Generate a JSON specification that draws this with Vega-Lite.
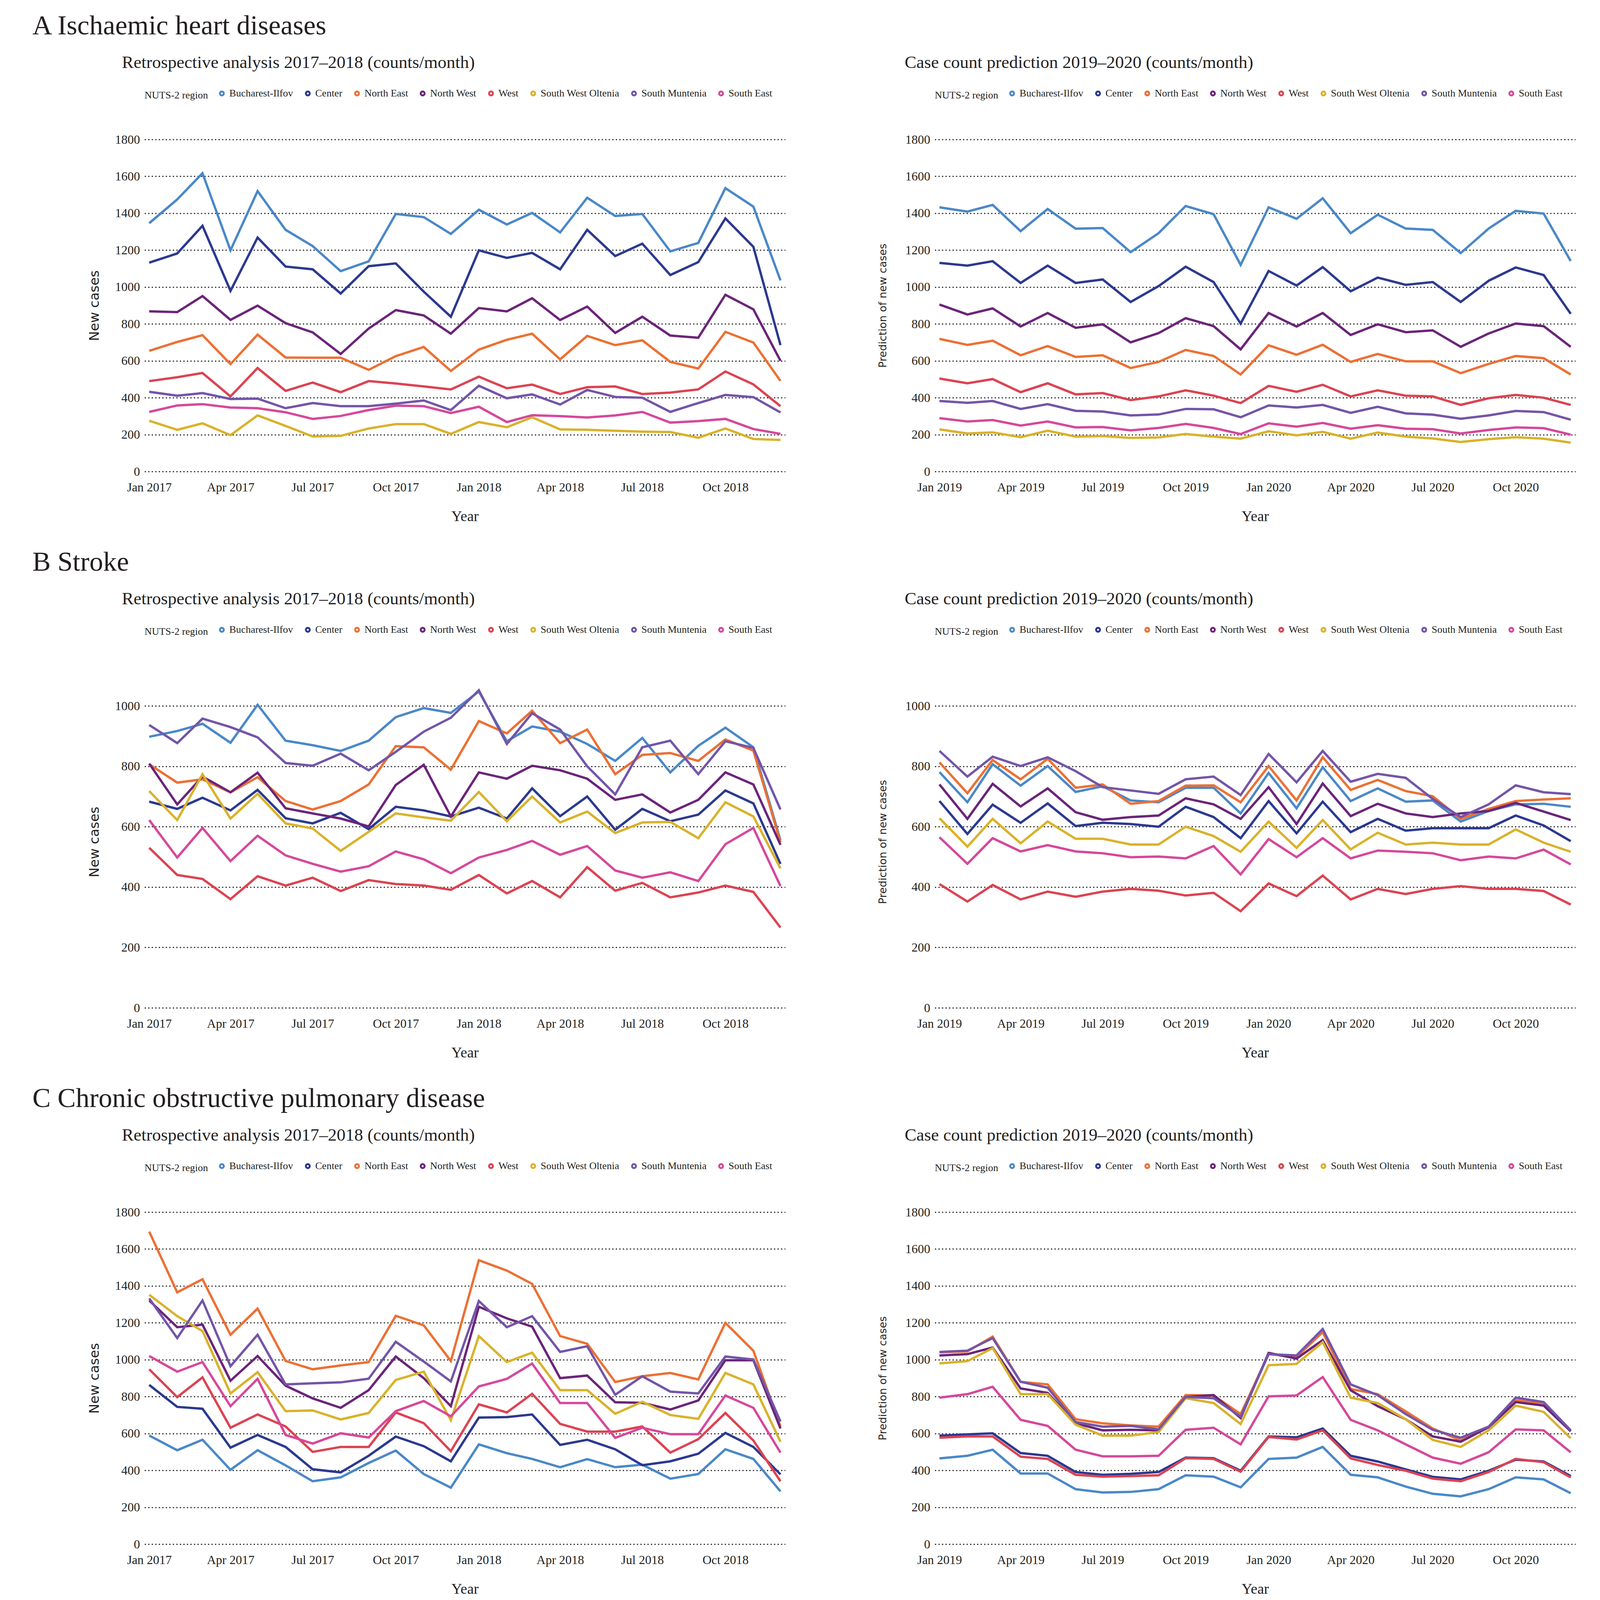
{
"$schema":"https://vega.github.io/schema/vega-lite/v6.json",
"padding":{"left":83,"top":32,"right":5,"bottom":5},
"spacing":64,
"resolve":{"scale":{"color":"independent"}},
"config":{
"font":"Liberation Serif",
"view":{"stroke":null},
"title":{"font":"Liberation Serif","fontWeight":"normal","color":"#231f20","anchor":"start","frame":"group"},
"axis":{"labelFont":"Liberation Serif","labelFontSize":32,"labelColor":"#231f20","titleFont":"Liberation Serif","titleFontSize":38,"titleFontWeight":"normal","titleColor":"#231f20","domain":false,"ticks":false},
"axisY":{"grid":true,"gridColor":"#222222","gridDash":[3,6],"gridWidth":3,"titleFont":"DejaVu Sans","titleFontSize":34,"labelPadding":12,"titlePadding":35,"format":"d"},
"axisX":{"grid":false,"labelPadding":25,"titlePadding":40},
"legend":{"orient":"top","direction":"horizontal","titleOrient":"left","titleFont":"Liberation Serif","titleFontSize":26,"titleFontWeight":"normal","titleColor":"#231f20","labelFont":"Liberation Serif","labelFontSize":26,"labelColor":"#231f20","labelLimit":600,"columnPadding":14,"labelOffset":6,"titlePadding":22,"offset":95}
},
"datasets":{
"regions":[{"r":"BI","n":"Bucharest-Ilfov"},{"r":"CE","n":"Center"},{"r":"NE","n":"North East"},{"r":"NW","n":"North West"},{"r":"WE","n":"West"},{"r":"SW","n":"South West Oltenia"},{"r":"SM","n":"South Muntenia"},{"r":"SE","n":"South East"}],
"A1":[
{"r":"BI","t":"2017-01","v":1346},{"r":"BI","t":"2017-02","v":1475},{"r":"BI","t":"2017-03","v":1617},{"r":"BI","t":"2017-04","v":1199},{"r":"BI","t":"2017-05","v":1520},{"r":"BI","t":"2017-06","v":1310},{"r":"BI","t":"2017-07","v":1222},{"r":"BI","t":"2017-08","v":1086},{"r":"BI","t":"2017-09","v":1139},{"r":"BI","t":"2017-10","v":1396},{"r":"BI","t":"2017-11","v":1379},{"r":"BI","t":"2017-12","v":1288},{"r":"BI","t":"2018-01","v":1419},{"r":"BI","t":"2018-02","v":1339},{"r":"BI","t":"2018-03","v":1402},{"r":"BI","t":"2018-04","v":1296},{"r":"BI","t":"2018-05","v":1484},{"r":"BI","t":"2018-06","v":1385},{"r":"BI","t":"2018-07","v":1396},{"r":"BI","t":"2018-08","v":1193},{"r":"BI","t":"2018-09","v":1239},{"r":"BI","t":"2018-10","v":1536},{"r":"BI","t":"2018-11","v":1436},{"r":"BI","t":"2018-12","v":1036},
{"r":"CE","t":"2017-01","v":1132},{"r":"CE","t":"2017-02","v":1182},{"r":"CE","t":"2017-03","v":1332},{"r":"CE","t":"2017-04","v":979},{"r":"CE","t":"2017-05","v":1268},{"r":"CE","t":"2017-06","v":1111},{"r":"CE","t":"2017-07","v":1096},{"r":"CE","t":"2017-08","v":965},{"r":"CE","t":"2017-09","v":1113},{"r":"CE","t":"2017-10","v":1128},{"r":"CE","t":"2017-11","v":975},{"r":"CE","t":"2017-12","v":839},{"r":"CE","t":"2018-01","v":1199},{"r":"CE","t":"2018-02","v":1158},{"r":"CE","t":"2018-03","v":1185},{"r":"CE","t":"2018-04","v":1096},{"r":"CE","t":"2018-05","v":1310},{"r":"CE","t":"2018-06","v":1168},{"r":"CE","t":"2018-07","v":1235},{"r":"CE","t":"2018-08","v":1065},{"r":"CE","t":"2018-09","v":1135},{"r":"CE","t":"2018-10","v":1372},{"r":"CE","t":"2018-11","v":1218},{"r":"CE","t":"2018-12","v":685},
{"r":"NE","t":"2017-01","v":654},{"r":"NE","t":"2017-02","v":702},{"r":"NE","t":"2017-03","v":739},{"r":"NE","t":"2017-04","v":582},{"r":"NE","t":"2017-05","v":742},{"r":"NE","t":"2017-06","v":618},{"r":"NE","t":"2017-07","v":617},{"r":"NE","t":"2017-08","v":617},{"r":"NE","t":"2017-09","v":551},{"r":"NE","t":"2017-10","v":625},{"r":"NE","t":"2017-11","v":675},{"r":"NE","t":"2017-12","v":545},{"r":"NE","t":"2018-01","v":661},{"r":"NE","t":"2018-02","v":714},{"r":"NE","t":"2018-03","v":747},{"r":"NE","t":"2018-04","v":608},{"r":"NE","t":"2018-05","v":735},{"r":"NE","t":"2018-06","v":685},{"r":"NE","t":"2018-07","v":711},{"r":"NE","t":"2018-08","v":594},{"r":"NE","t":"2018-09","v":558},{"r":"NE","t":"2018-10","v":757},{"r":"NE","t":"2018-11","v":699},{"r":"NE","t":"2018-12","v":491},
{"r":"NW","t":"2017-01","v":868},{"r":"NW","t":"2017-02","v":864},{"r":"NW","t":"2017-03","v":951},{"r":"NW","t":"2017-04","v":822},{"r":"NW","t":"2017-05","v":899},{"r":"NW","t":"2017-06","v":804},{"r":"NW","t":"2017-07","v":754},{"r":"NW","t":"2017-08","v":637},{"r":"NW","t":"2017-09","v":775},{"r":"NW","t":"2017-10","v":875},{"r":"NW","t":"2017-11","v":846},{"r":"NW","t":"2017-12","v":747},{"r":"NW","t":"2018-01","v":886},{"r":"NW","t":"2018-02","v":868},{"r":"NW","t":"2018-03","v":939},{"r":"NW","t":"2018-04","v":821},{"r":"NW","t":"2018-05","v":894},{"r":"NW","t":"2018-06","v":751},{"r":"NW","t":"2018-07","v":839},{"r":"NW","t":"2018-08","v":737},{"r":"NW","t":"2018-09","v":725},{"r":"NW","t":"2018-10","v":958},{"r":"NW","t":"2018-11","v":879},{"r":"NW","t":"2018-12","v":600},
{"r":"WE","t":"2017-01","v":490},{"r":"WE","t":"2017-02","v":511},{"r":"WE","t":"2017-03","v":534},{"r":"WE","t":"2017-04","v":407},{"r":"WE","t":"2017-05","v":561},{"r":"WE","t":"2017-06","v":437},{"r":"WE","t":"2017-07","v":482},{"r":"WE","t":"2017-08","v":430},{"r":"WE","t":"2017-09","v":490},{"r":"WE","t":"2017-10","v":477},{"r":"WE","t":"2017-11","v":461},{"r":"WE","t":"2017-12","v":445},{"r":"WE","t":"2018-01","v":514},{"r":"WE","t":"2018-02","v":451},{"r":"WE","t":"2018-03","v":471},{"r":"WE","t":"2018-04","v":420},{"r":"WE","t":"2018-05","v":457},{"r":"WE","t":"2018-06","v":461},{"r":"WE","t":"2018-07","v":420},{"r":"WE","t":"2018-08","v":428},{"r":"WE","t":"2018-09","v":445},{"r":"WE","t":"2018-10","v":542},{"r":"WE","t":"2018-11","v":472},{"r":"WE","t":"2018-12","v":354},
{"r":"SW","t":"2017-01","v":275},{"r":"SW","t":"2017-02","v":226},{"r":"SW","t":"2017-03","v":261},{"r":"SW","t":"2017-04","v":197},{"r":"SW","t":"2017-05","v":304},{"r":"SW","t":"2017-06","v":247},{"r":"SW","t":"2017-07","v":190},{"r":"SW","t":"2017-08","v":193},{"r":"SW","t":"2017-09","v":233},{"r":"SW","t":"2017-10","v":257},{"r":"SW","t":"2017-11","v":257},{"r":"SW","t":"2017-12","v":204},{"r":"SW","t":"2018-01","v":268},{"r":"SW","t":"2018-02","v":240},{"r":"SW","t":"2018-03","v":294},{"r":"SW","t":"2018-04","v":228},{"r":"SW","t":"2018-05","v":226},{"r":"SW","t":"2018-06","v":221},{"r":"SW","t":"2018-07","v":216},{"r":"SW","t":"2018-08","v":214},{"r":"SW","t":"2018-09","v":183},{"r":"SW","t":"2018-10","v":233},{"r":"SW","t":"2018-11","v":176},{"r":"SW","t":"2018-12","v":171},
{"r":"SM","t":"2017-01","v":432},{"r":"SM","t":"2017-02","v":411},{"r":"SM","t":"2017-03","v":425},{"r":"SM","t":"2017-04","v":393},{"r":"SM","t":"2017-05","v":395},{"r":"SM","t":"2017-06","v":343},{"r":"SM","t":"2017-07","v":371},{"r":"SM","t":"2017-08","v":354},{"r":"SM","t":"2017-09","v":354},{"r":"SM","t":"2017-10","v":368},{"r":"SM","t":"2017-11","v":385},{"r":"SM","t":"2017-12","v":333},{"r":"SM","t":"2018-01","v":465},{"r":"SM","t":"2018-02","v":397},{"r":"SM","t":"2018-03","v":418},{"r":"SM","t":"2018-04","v":363},{"r":"SM","t":"2018-05","v":442},{"r":"SM","t":"2018-06","v":404},{"r":"SM","t":"2018-07","v":400},{"r":"SM","t":"2018-08","v":323},{"r":"SM","t":"2018-09","v":371},{"r":"SM","t":"2018-10","v":415},{"r":"SM","t":"2018-11","v":403},{"r":"SM","t":"2018-12","v":320},
{"r":"SE","t":"2017-01","v":323},{"r":"SE","t":"2017-02","v":358},{"r":"SE","t":"2017-03","v":365},{"r":"SE","t":"2017-04","v":347},{"r":"SE","t":"2017-05","v":343},{"r":"SE","t":"2017-06","v":321},{"r":"SE","t":"2017-07","v":285},{"r":"SE","t":"2017-08","v":301},{"r":"SE","t":"2017-09","v":333},{"r":"SE","t":"2017-10","v":357},{"r":"SE","t":"2017-11","v":354},{"r":"SE","t":"2017-12","v":317},{"r":"SE","t":"2018-01","v":351},{"r":"SE","t":"2018-02","v":268},{"r":"SE","t":"2018-03","v":305},{"r":"SE","t":"2018-04","v":300},{"r":"SE","t":"2018-05","v":293},{"r":"SE","t":"2018-06","v":304},{"r":"SE","t":"2018-07","v":323},{"r":"SE","t":"2018-08","v":265},{"r":"SE","t":"2018-09","v":273},{"r":"SE","t":"2018-10","v":285},{"r":"SE","t":"2018-11","v":230},{"r":"SE","t":"2018-12","v":204}
],
"A2":[
{"r":"BI","t":"2019-01","v":1432},{"r":"BI","t":"2019-02","v":1409},{"r":"BI","t":"2019-03","v":1445},{"r":"BI","t":"2019-04","v":1303},{"r":"BI","t":"2019-05","v":1423},{"r":"BI","t":"2019-06","v":1316},{"r":"BI","t":"2019-07","v":1320},{"r":"BI","t":"2019-08","v":1189},{"r":"BI","t":"2019-09","v":1292},{"r":"BI","t":"2019-10","v":1439},{"r":"BI","t":"2019-11","v":1395},{"r":"BI","t":"2019-12","v":1120},{"r":"BI","t":"2020-01","v":1432},{"r":"BI","t":"2020-02","v":1370},{"r":"BI","t":"2020-03","v":1481},{"r":"BI","t":"2020-04","v":1292},{"r":"BI","t":"2020-05","v":1392},{"r":"BI","t":"2020-06","v":1317},{"r":"BI","t":"2020-07","v":1310},{"r":"BI","t":"2020-08","v":1184},{"r":"BI","t":"2020-09","v":1317},{"r":"BI","t":"2020-10","v":1413},{"r":"BI","t":"2020-11","v":1398},{"r":"BI","t":"2020-12","v":1141},
{"r":"CE","t":"2019-01","v":1131},{"r":"CE","t":"2019-02","v":1116},{"r":"CE","t":"2019-03","v":1140},{"r":"CE","t":"2019-04","v":1022},{"r":"CE","t":"2019-05","v":1116},{"r":"CE","t":"2019-06","v":1022},{"r":"CE","t":"2019-07","v":1041},{"r":"CE","t":"2019-08","v":919},{"r":"CE","t":"2019-09","v":1005},{"r":"CE","t":"2019-10","v":1110},{"r":"CE","t":"2019-11","v":1027},{"r":"CE","t":"2019-12","v":802},{"r":"CE","t":"2020-01","v":1087},{"r":"CE","t":"2020-02","v":1008},{"r":"CE","t":"2020-03","v":1108},{"r":"CE","t":"2020-04","v":977},{"r":"CE","t":"2020-05","v":1051},{"r":"CE","t":"2020-06","v":1012},{"r":"CE","t":"2020-07","v":1027},{"r":"CE","t":"2020-08","v":919},{"r":"CE","t":"2020-09","v":1034},{"r":"CE","t":"2020-10","v":1106},{"r":"CE","t":"2020-11","v":1065},{"r":"CE","t":"2020-12","v":855},
{"r":"NE","t":"2019-01","v":719},{"r":"NE","t":"2019-02","v":686},{"r":"NE","t":"2019-03","v":709},{"r":"NE","t":"2019-04","v":630},{"r":"NE","t":"2019-05","v":680},{"r":"NE","t":"2019-06","v":621},{"r":"NE","t":"2019-07","v":630},{"r":"NE","t":"2019-08","v":561},{"r":"NE","t":"2019-09","v":594},{"r":"NE","t":"2019-10","v":659},{"r":"NE","t":"2019-11","v":626},{"r":"NE","t":"2019-12","v":526},{"r":"NE","t":"2020-01","v":684},{"r":"NE","t":"2020-02","v":633},{"r":"NE","t":"2020-03","v":687},{"r":"NE","t":"2020-04","v":594},{"r":"NE","t":"2020-05","v":637},{"r":"NE","t":"2020-06","v":597},{"r":"NE","t":"2020-07","v":597},{"r":"NE","t":"2020-08","v":533},{"r":"NE","t":"2020-09","v":583},{"r":"NE","t":"2020-10","v":626},{"r":"NE","t":"2020-11","v":614},{"r":"NE","t":"2020-12","v":526},
{"r":"NW","t":"2019-01","v":905},{"r":"NW","t":"2019-02","v":851},{"r":"NW","t":"2019-03","v":884},{"r":"NW","t":"2019-04","v":786},{"r":"NW","t":"2019-05","v":859},{"r":"NW","t":"2019-06","v":779},{"r":"NW","t":"2019-07","v":798},{"r":"NW","t":"2019-08","v":700},{"r":"NW","t":"2019-09","v":750},{"r":"NW","t":"2019-10","v":831},{"r":"NW","t":"2019-11","v":788},{"r":"NW","t":"2019-12","v":662},{"r":"NW","t":"2020-01","v":859},{"r":"NW","t":"2020-02","v":786},{"r":"NW","t":"2020-03","v":859},{"r":"NW","t":"2020-04","v":740},{"r":"NW","t":"2020-05","v":798},{"r":"NW","t":"2020-06","v":755},{"r":"NW","t":"2020-07","v":765},{"r":"NW","t":"2020-08","v":676},{"r":"NW","t":"2020-09","v":748},{"r":"NW","t":"2020-10","v":802},{"r":"NW","t":"2020-11","v":788},{"r":"NW","t":"2020-12","v":676},
{"r":"WE","t":"2019-01","v":504},{"r":"WE","t":"2019-02","v":478},{"r":"WE","t":"2019-03","v":501},{"r":"WE","t":"2019-04","v":430},{"r":"WE","t":"2019-05","v":478},{"r":"WE","t":"2019-06","v":418},{"r":"WE","t":"2019-07","v":425},{"r":"WE","t":"2019-08","v":387},{"r":"WE","t":"2019-09","v":407},{"r":"WE","t":"2019-10","v":440},{"r":"WE","t":"2019-11","v":411},{"r":"WE","t":"2019-12","v":371},{"r":"WE","t":"2020-01","v":464},{"r":"WE","t":"2020-02","v":432},{"r":"WE","t":"2020-03","v":470},{"r":"WE","t":"2020-04","v":407},{"r":"WE","t":"2020-05","v":440},{"r":"WE","t":"2020-06","v":411},{"r":"WE","t":"2020-07","v":407},{"r":"WE","t":"2020-08","v":361},{"r":"WE","t":"2020-09","v":397},{"r":"WE","t":"2020-10","v":415},{"r":"WE","t":"2020-11","v":400},{"r":"WE","t":"2020-12","v":361},
{"r":"SW","t":"2019-01","v":228},{"r":"SW","t":"2019-02","v":206},{"r":"SW","t":"2019-03","v":212},{"r":"SW","t":"2019-04","v":186},{"r":"SW","t":"2019-05","v":221},{"r":"SW","t":"2019-06","v":189},{"r":"SW","t":"2019-07","v":192},{"r":"SW","t":"2019-08","v":182},{"r":"SW","t":"2019-09","v":185},{"r":"SW","t":"2019-10","v":203},{"r":"SW","t":"2019-11","v":189},{"r":"SW","t":"2019-12","v":178},{"r":"SW","t":"2020-01","v":218},{"r":"SW","t":"2020-02","v":196},{"r":"SW","t":"2020-03","v":215},{"r":"SW","t":"2020-04","v":178},{"r":"SW","t":"2020-05","v":211},{"r":"SW","t":"2020-06","v":189},{"r":"SW","t":"2020-07","v":179},{"r":"SW","t":"2020-08","v":160},{"r":"SW","t":"2020-09","v":175},{"r":"SW","t":"2020-10","v":186},{"r":"SW","t":"2020-11","v":178},{"r":"SW","t":"2020-12","v":156},
{"r":"SM","t":"2019-01","v":382},{"r":"SM","t":"2019-02","v":372},{"r":"SM","t":"2019-03","v":382},{"r":"SM","t":"2019-04","v":339},{"r":"SM","t":"2019-05","v":365},{"r":"SM","t":"2019-06","v":329},{"r":"SM","t":"2019-07","v":325},{"r":"SM","t":"2019-08","v":304},{"r":"SM","t":"2019-09","v":309},{"r":"SM","t":"2019-10","v":339},{"r":"SM","t":"2019-11","v":337},{"r":"SM","t":"2019-12","v":294},{"r":"SM","t":"2020-01","v":358},{"r":"SM","t":"2020-02","v":347},{"r":"SM","t":"2020-03","v":361},{"r":"SM","t":"2020-04","v":318},{"r":"SM","t":"2020-05","v":351},{"r":"SM","t":"2020-06","v":315},{"r":"SM","t":"2020-07","v":308},{"r":"SM","t":"2020-08","v":286},{"r":"SM","t":"2020-09","v":304},{"r":"SM","t":"2020-10","v":328},{"r":"SM","t":"2020-11","v":322},{"r":"SM","t":"2020-12","v":281},
{"r":"SE","t":"2019-01","v":289},{"r":"SE","t":"2019-02","v":271},{"r":"SE","t":"2019-03","v":279},{"r":"SE","t":"2019-04","v":249},{"r":"SE","t":"2019-05","v":271},{"r":"SE","t":"2019-06","v":239},{"r":"SE","t":"2019-07","v":241},{"r":"SE","t":"2019-08","v":223},{"r":"SE","t":"2019-09","v":236},{"r":"SE","t":"2019-10","v":258},{"r":"SE","t":"2019-11","v":236},{"r":"SE","t":"2019-12","v":203},{"r":"SE","t":"2020-01","v":261},{"r":"SE","t":"2020-02","v":243},{"r":"SE","t":"2020-03","v":263},{"r":"SE","t":"2020-04","v":232},{"r":"SE","t":"2020-05","v":251},{"r":"SE","t":"2020-06","v":232},{"r":"SE","t":"2020-07","v":229},{"r":"SE","t":"2020-08","v":206},{"r":"SE","t":"2020-09","v":225},{"r":"SE","t":"2020-10","v":239},{"r":"SE","t":"2020-11","v":235},{"r":"SE","t":"2020-12","v":200}
],
"B1":[
{"r":"BI","t":"2017-01","v":898},{"r":"BI","t":"2017-02","v":917},{"r":"BI","t":"2017-03","v":941},{"r":"BI","t":"2017-04","v":878},{"r":"BI","t":"2017-05","v":1004},{"r":"BI","t":"2017-06","v":885},{"r":"BI","t":"2017-07","v":870},{"r":"BI","t":"2017-08","v":851},{"r":"BI","t":"2017-09","v":885},{"r":"BI","t":"2017-10","v":963},{"r":"BI","t":"2017-11","v":993},{"r":"BI","t":"2017-12","v":977},{"r":"BI","t":"2018-01","v":1048},{"r":"BI","t":"2018-02","v":883},{"r":"BI","t":"2018-03","v":932},{"r":"BI","t":"2018-04","v":915},{"r":"BI","t":"2018-05","v":874},{"r":"BI","t":"2018-06","v":818},{"r":"BI","t":"2018-07","v":894},{"r":"BI","t":"2018-08","v":780},{"r":"BI","t":"2018-09","v":868},{"r":"BI","t":"2018-10","v":928},{"r":"BI","t":"2018-11","v":863},{"r":"BI","t":"2018-12","v":555},
{"r":"CE","t":"2017-01","v":683},{"r":"CE","t":"2017-02","v":659},{"r":"CE","t":"2017-03","v":696},{"r":"CE","t":"2017-04","v":654},{"r":"CE","t":"2017-05","v":722},{"r":"CE","t":"2017-06","v":628},{"r":"CE","t":"2017-07","v":611},{"r":"CE","t":"2017-08","v":646},{"r":"CE","t":"2017-09","v":592},{"r":"CE","t":"2017-10","v":666},{"r":"CE","t":"2017-11","v":654},{"r":"CE","t":"2017-12","v":634},{"r":"CE","t":"2018-01","v":663},{"r":"CE","t":"2018-02","v":627},{"r":"CE","t":"2018-03","v":727},{"r":"CE","t":"2018-04","v":635},{"r":"CE","t":"2018-05","v":700},{"r":"CE","t":"2018-06","v":590},{"r":"CE","t":"2018-07","v":659},{"r":"CE","t":"2018-08","v":618},{"r":"CE","t":"2018-09","v":640},{"r":"CE","t":"2018-10","v":720},{"r":"CE","t":"2018-11","v":677},{"r":"CE","t":"2018-12","v":477},
{"r":"NE","t":"2017-01","v":807},{"r":"NE","t":"2017-02","v":746},{"r":"NE","t":"2017-03","v":757},{"r":"NE","t":"2017-04","v":714},{"r":"NE","t":"2017-05","v":764},{"r":"NE","t":"2017-06","v":685},{"r":"NE","t":"2017-07","v":657},{"r":"NE","t":"2017-08","v":685},{"r":"NE","t":"2017-09","v":740},{"r":"NE","t":"2017-10","v":867},{"r":"NE","t":"2017-11","v":863},{"r":"NE","t":"2017-12","v":789},{"r":"NE","t":"2018-01","v":950},{"r":"NE","t":"2018-02","v":909},{"r":"NE","t":"2018-03","v":984},{"r":"NE","t":"2018-04","v":877},{"r":"NE","t":"2018-05","v":922},{"r":"NE","t":"2018-06","v":774},{"r":"NE","t":"2018-07","v":838},{"r":"NE","t":"2018-08","v":844},{"r":"NE","t":"2018-09","v":818},{"r":"NE","t":"2018-10","v":889},{"r":"NE","t":"2018-11","v":852},{"r":"NE","t":"2018-12","v":549},
{"r":"NW","t":"2017-01","v":809},{"r":"NW","t":"2017-02","v":674},{"r":"NW","t":"2017-03","v":766},{"r":"NW","t":"2017-04","v":714},{"r":"NW","t":"2017-05","v":779},{"r":"NW","t":"2017-06","v":661},{"r":"NW","t":"2017-07","v":644},{"r":"NW","t":"2017-08","v":627},{"r":"NW","t":"2017-09","v":601},{"r":"NW","t":"2017-10","v":738},{"r":"NW","t":"2017-11","v":805},{"r":"NW","t":"2017-12","v":634},{"r":"NW","t":"2018-01","v":780},{"r":"NW","t":"2018-02","v":759},{"r":"NW","t":"2018-03","v":802},{"r":"NW","t":"2018-04","v":787},{"r":"NW","t":"2018-05","v":759},{"r":"NW","t":"2018-06","v":689},{"r":"NW","t":"2018-07","v":707},{"r":"NW","t":"2018-08","v":647},{"r":"NW","t":"2018-09","v":689},{"r":"NW","t":"2018-10","v":780},{"r":"NW","t":"2018-11","v":740},{"r":"NW","t":"2018-12","v":540},
{"r":"WE","t":"2017-01","v":530},{"r":"WE","t":"2017-02","v":440},{"r":"WE","t":"2017-03","v":427},{"r":"WE","t":"2017-04","v":360},{"r":"WE","t":"2017-05","v":436},{"r":"WE","t":"2017-06","v":405},{"r":"WE","t":"2017-07","v":431},{"r":"WE","t":"2017-08","v":387},{"r":"WE","t":"2017-09","v":423},{"r":"WE","t":"2017-10","v":410},{"r":"WE","t":"2017-11","v":405},{"r":"WE","t":"2017-12","v":391},{"r":"WE","t":"2018-01","v":440},{"r":"WE","t":"2018-02","v":379},{"r":"WE","t":"2018-03","v":420},{"r":"WE","t":"2018-04","v":366},{"r":"WE","t":"2018-05","v":466},{"r":"WE","t":"2018-06","v":388},{"r":"WE","t":"2018-07","v":414},{"r":"WE","t":"2018-08","v":366},{"r":"WE","t":"2018-09","v":382},{"r":"WE","t":"2018-10","v":405},{"r":"WE","t":"2018-11","v":384},{"r":"WE","t":"2018-12","v":266},
{"r":"SW","t":"2017-01","v":718},{"r":"SW","t":"2017-02","v":622},{"r":"SW","t":"2017-03","v":774},{"r":"SW","t":"2017-04","v":627},{"r":"SW","t":"2017-05","v":709},{"r":"SW","t":"2017-06","v":611},{"r":"SW","t":"2017-07","v":594},{"r":"SW","t":"2017-08","v":520},{"r":"SW","t":"2017-09","v":583},{"r":"SW","t":"2017-10","v":644},{"r":"SW","t":"2017-11","v":631},{"r":"SW","t":"2017-12","v":620},{"r":"SW","t":"2018-01","v":715},{"r":"SW","t":"2018-02","v":618},{"r":"SW","t":"2018-03","v":700},{"r":"SW","t":"2018-04","v":614},{"r":"SW","t":"2018-05","v":650},{"r":"SW","t":"2018-06","v":579},{"r":"SW","t":"2018-07","v":614},{"r":"SW","t":"2018-08","v":616},{"r":"SW","t":"2018-09","v":562},{"r":"SW","t":"2018-10","v":681},{"r":"SW","t":"2018-11","v":634},{"r":"SW","t":"2018-12","v":462},
{"r":"SM","t":"2017-01","v":937},{"r":"SM","t":"2017-02","v":877},{"r":"SM","t":"2017-03","v":958},{"r":"SM","t":"2017-04","v":930},{"r":"SM","t":"2017-05","v":896},{"r":"SM","t":"2017-06","v":811},{"r":"SM","t":"2017-07","v":802},{"r":"SM","t":"2017-08","v":842},{"r":"SM","t":"2017-09","v":787},{"r":"SM","t":"2017-10","v":848},{"r":"SM","t":"2017-11","v":915},{"r":"SM","t":"2017-12","v":961},{"r":"SM","t":"2018-01","v":1052},{"r":"SM","t":"2018-02","v":874},{"r":"SM","t":"2018-03","v":976},{"r":"SM","t":"2018-04","v":922},{"r":"SM","t":"2018-05","v":800},{"r":"SM","t":"2018-06","v":707},{"r":"SM","t":"2018-07","v":863},{"r":"SM","t":"2018-08","v":885},{"r":"SM","t":"2018-09","v":774},{"r":"SM","t":"2018-10","v":883},{"r":"SM","t":"2018-11","v":861},{"r":"SM","t":"2018-12","v":657},
{"r":"SE","t":"2017-01","v":622},{"r":"SE","t":"2017-02","v":498},{"r":"SE","t":"2017-03","v":596},{"r":"SE","t":"2017-04","v":486},{"r":"SE","t":"2017-05","v":570},{"r":"SE","t":"2017-06","v":505},{"r":"SE","t":"2017-07","v":477},{"r":"SE","t":"2017-08","v":451},{"r":"SE","t":"2017-09","v":469},{"r":"SE","t":"2017-10","v":518},{"r":"SE","t":"2017-11","v":492},{"r":"SE","t":"2017-12","v":446},{"r":"SE","t":"2018-01","v":498},{"r":"SE","t":"2018-02","v":523},{"r":"SE","t":"2018-03","v":553},{"r":"SE","t":"2018-04","v":507},{"r":"SE","t":"2018-05","v":536},{"r":"SE","t":"2018-06","v":455},{"r":"SE","t":"2018-07","v":431},{"r":"SE","t":"2018-08","v":449},{"r":"SE","t":"2018-09","v":420},{"r":"SE","t":"2018-10","v":542},{"r":"SE","t":"2018-11","v":596},{"r":"SE","t":"2018-12","v":403}
],
"B2":[
{"r":"BI","t":"2019-01","v":781},{"r":"BI","t":"2019-02","v":681},{"r":"BI","t":"2019-03","v":807},{"r":"BI","t":"2019-04","v":736},{"r":"BI","t":"2019-05","v":801},{"r":"BI","t":"2019-06","v":715},{"r":"BI","t":"2019-07","v":734},{"r":"BI","t":"2019-08","v":687},{"r":"BI","t":"2019-09","v":681},{"r":"BI","t":"2019-10","v":729},{"r":"BI","t":"2019-11","v":729},{"r":"BI","t":"2019-12","v":644},{"r":"BI","t":"2020-01","v":778},{"r":"BI","t":"2020-02","v":661},{"r":"BI","t":"2020-03","v":797},{"r":"BI","t":"2020-04","v":685},{"r":"BI","t":"2020-05","v":727},{"r":"BI","t":"2020-06","v":683},{"r":"BI","t":"2020-07","v":687},{"r":"BI","t":"2020-08","v":617},{"r":"BI","t":"2020-09","v":652},{"r":"BI","t":"2020-10","v":674},{"r":"BI","t":"2020-11","v":676},{"r":"BI","t":"2020-12","v":666},
{"r":"CE","t":"2019-01","v":685},{"r":"CE","t":"2019-02","v":576},{"r":"CE","t":"2019-03","v":673},{"r":"CE","t":"2019-04","v":613},{"r":"CE","t":"2019-05","v":677},{"r":"CE","t":"2019-06","v":602},{"r":"CE","t":"2019-07","v":613},{"r":"CE","t":"2019-08","v":609},{"r":"CE","t":"2019-09","v":600},{"r":"CE","t":"2019-10","v":666},{"r":"CE","t":"2019-11","v":632},{"r":"CE","t":"2019-12","v":562},{"r":"CE","t":"2020-01","v":685},{"r":"CE","t":"2020-02","v":578},{"r":"CE","t":"2020-03","v":683},{"r":"CE","t":"2020-04","v":582},{"r":"CE","t":"2020-05","v":626},{"r":"CE","t":"2020-06","v":587},{"r":"CE","t":"2020-07","v":595},{"r":"CE","t":"2020-08","v":595},{"r":"CE","t":"2020-09","v":595},{"r":"CE","t":"2020-10","v":637},{"r":"CE","t":"2020-11","v":604},{"r":"CE","t":"2020-12","v":552},
{"r":"NE","t":"2019-01","v":813},{"r":"NE","t":"2019-02","v":711},{"r":"NE","t":"2019-03","v":821},{"r":"NE","t":"2019-04","v":757},{"r":"NE","t":"2019-05","v":825},{"r":"NE","t":"2019-06","v":729},{"r":"NE","t":"2019-07","v":740},{"r":"NE","t":"2019-08","v":676},{"r":"NE","t":"2019-09","v":685},{"r":"NE","t":"2019-10","v":736},{"r":"NE","t":"2019-11","v":737},{"r":"NE","t":"2019-12","v":681},{"r":"NE","t":"2020-01","v":801},{"r":"NE","t":"2020-02","v":687},{"r":"NE","t":"2020-03","v":830},{"r":"NE","t":"2020-04","v":722},{"r":"NE","t":"2020-05","v":755},{"r":"NE","t":"2020-06","v":718},{"r":"NE","t":"2020-07","v":701},{"r":"NE","t":"2020-08","v":626},{"r":"NE","t":"2020-09","v":659},{"r":"NE","t":"2020-10","v":685},{"r":"NE","t":"2020-11","v":690},{"r":"NE","t":"2020-12","v":694},
{"r":"NW","t":"2019-01","v":740},{"r":"NW","t":"2019-02","v":626},{"r":"NW","t":"2019-03","v":742},{"r":"NW","t":"2019-04","v":667},{"r":"NW","t":"2019-05","v":727},{"r":"NW","t":"2019-06","v":648},{"r":"NW","t":"2019-07","v":623},{"r":"NW","t":"2019-08","v":632},{"r":"NW","t":"2019-09","v":637},{"r":"NW","t":"2019-10","v":694},{"r":"NW","t":"2019-11","v":674},{"r":"NW","t":"2019-12","v":626},{"r":"NW","t":"2020-01","v":731},{"r":"NW","t":"2020-02","v":609},{"r":"NW","t":"2020-03","v":743},{"r":"NW","t":"2020-04","v":635},{"r":"NW","t":"2020-05","v":676},{"r":"NW","t":"2020-06","v":644},{"r":"NW","t":"2020-07","v":632},{"r":"NW","t":"2020-08","v":644},{"r":"NW","t":"2020-09","v":652},{"r":"NW","t":"2020-10","v":679},{"r":"NW","t":"2020-11","v":650},{"r":"NW","t":"2020-12","v":622},
{"r":"WE","t":"2019-01","v":410},{"r":"WE","t":"2019-02","v":352},{"r":"WE","t":"2019-03","v":407},{"r":"WE","t":"2019-04","v":359},{"r":"WE","t":"2019-05","v":385},{"r":"WE","t":"2019-06","v":368},{"r":"WE","t":"2019-07","v":385},{"r":"WE","t":"2019-08","v":394},{"r":"WE","t":"2019-09","v":388},{"r":"WE","t":"2019-10","v":372},{"r":"WE","t":"2019-11","v":381},{"r":"WE","t":"2019-12","v":320},{"r":"WE","t":"2020-01","v":412},{"r":"WE","t":"2020-02","v":370},{"r":"WE","t":"2020-03","v":438},{"r":"WE","t":"2020-04","v":359},{"r":"WE","t":"2020-05","v":394},{"r":"WE","t":"2020-06","v":377},{"r":"WE","t":"2020-07","v":394},{"r":"WE","t":"2020-08","v":403},{"r":"WE","t":"2020-09","v":394},{"r":"WE","t":"2020-10","v":394},{"r":"WE","t":"2020-11","v":387},{"r":"WE","t":"2020-12","v":342},
{"r":"SW","t":"2019-01","v":628},{"r":"SW","t":"2019-02","v":534},{"r":"SW","t":"2019-03","v":626},{"r":"SW","t":"2019-04","v":545},{"r":"SW","t":"2019-05","v":617},{"r":"SW","t":"2019-06","v":560},{"r":"SW","t":"2019-07","v":560},{"r":"SW","t":"2019-08","v":541},{"r":"SW","t":"2019-09","v":541},{"r":"SW","t":"2019-10","v":600},{"r":"SW","t":"2019-11","v":569},{"r":"SW","t":"2019-12","v":517},{"r":"SW","t":"2020-01","v":617},{"r":"SW","t":"2020-02","v":530},{"r":"SW","t":"2020-03","v":622},{"r":"SW","t":"2020-04","v":525},{"r":"SW","t":"2020-05","v":580},{"r":"SW","t":"2020-06","v":541},{"r":"SW","t":"2020-07","v":547},{"r":"SW","t":"2020-08","v":541},{"r":"SW","t":"2020-09","v":541},{"r":"SW","t":"2020-10","v":591},{"r":"SW","t":"2020-11","v":547},{"r":"SW","t":"2020-12","v":517},
{"r":"SM","t":"2019-01","v":851},{"r":"SM","t":"2019-02","v":766},{"r":"SM","t":"2019-03","v":832},{"r":"SM","t":"2019-04","v":801},{"r":"SM","t":"2019-05","v":830},{"r":"SM","t":"2019-06","v":784},{"r":"SM","t":"2019-07","v":731},{"r":"SM","t":"2019-08","v":720},{"r":"SM","t":"2019-09","v":709},{"r":"SM","t":"2019-10","v":757},{"r":"SM","t":"2019-11","v":766},{"r":"SM","t":"2019-12","v":705},{"r":"SM","t":"2020-01","v":841},{"r":"SM","t":"2020-02","v":747},{"r":"SM","t":"2020-03","v":851},{"r":"SM","t":"2020-04","v":749},{"r":"SM","t":"2020-05","v":775},{"r":"SM","t":"2020-06","v":762},{"r":"SM","t":"2020-07","v":692},{"r":"SM","t":"2020-08","v":632},{"r":"SM","t":"2020-09","v":674},{"r":"SM","t":"2020-10","v":737},{"r":"SM","t":"2020-11","v":714},{"r":"SM","t":"2020-12","v":708},
{"r":"SE","t":"2019-01","v":565},{"r":"SE","t":"2019-02","v":477},{"r":"SE","t":"2019-03","v":562},{"r":"SE","t":"2019-04","v":518},{"r":"SE","t":"2019-05","v":539},{"r":"SE","t":"2019-06","v":518},{"r":"SE","t":"2019-07","v":512},{"r":"SE","t":"2019-08","v":499},{"r":"SE","t":"2019-09","v":501},{"r":"SE","t":"2019-10","v":495},{"r":"SE","t":"2019-11","v":536},{"r":"SE","t":"2019-12","v":442},{"r":"SE","t":"2020-01","v":559},{"r":"SE","t":"2020-02","v":499},{"r":"SE","t":"2020-03","v":562},{"r":"SE","t":"2020-04","v":495},{"r":"SE","t":"2020-05","v":521},{"r":"SE","t":"2020-06","v":517},{"r":"SE","t":"2020-07","v":512},{"r":"SE","t":"2020-08","v":489},{"r":"SE","t":"2020-09","v":501},{"r":"SE","t":"2020-10","v":495},{"r":"SE","t":"2020-11","v":524},{"r":"SE","t":"2020-12","v":475}
],
"C1":[
{"r":"BI","t":"2017-01","v":589},{"r":"BI","t":"2017-02","v":509},{"r":"BI","t":"2017-03","v":566},{"r":"BI","t":"2017-04","v":403},{"r":"BI","t":"2017-05","v":509},{"r":"BI","t":"2017-06","v":427},{"r":"BI","t":"2017-07","v":341},{"r":"BI","t":"2017-08","v":362},{"r":"BI","t":"2017-09","v":440},{"r":"BI","t":"2017-10","v":507},{"r":"BI","t":"2017-11","v":380},{"r":"BI","t":"2017-12","v":306},{"r":"BI","t":"2018-01","v":541},{"r":"BI","t":"2018-02","v":493},{"r":"BI","t":"2018-03","v":462},{"r":"BI","t":"2018-04","v":417},{"r":"BI","t":"2018-05","v":461},{"r":"BI","t":"2018-06","v":417},{"r":"BI","t":"2018-07","v":431},{"r":"BI","t":"2018-08","v":355},{"r":"BI","t":"2018-09","v":380},{"r":"BI","t":"2018-10","v":514},{"r":"BI","t":"2018-11","v":462},{"r":"BI","t":"2018-12","v":286},
{"r":"CE","t":"2017-01","v":863},{"r":"CE","t":"2017-02","v":744},{"r":"CE","t":"2017-03","v":734},{"r":"CE","t":"2017-04","v":523},{"r":"CE","t":"2017-05","v":592},{"r":"CE","t":"2017-06","v":527},{"r":"CE","t":"2017-07","v":406},{"r":"CE","t":"2017-08","v":389},{"r":"CE","t":"2017-09","v":479},{"r":"CE","t":"2017-10","v":583},{"r":"CE","t":"2017-11","v":531},{"r":"CE","t":"2017-12","v":449},{"r":"CE","t":"2018-01","v":686},{"r":"CE","t":"2018-02","v":689},{"r":"CE","t":"2018-03","v":703},{"r":"CE","t":"2018-04","v":538},{"r":"CE","t":"2018-05","v":566},{"r":"CE","t":"2018-06","v":514},{"r":"CE","t":"2018-07","v":428},{"r":"CE","t":"2018-08","v":449},{"r":"CE","t":"2018-09","v":490},{"r":"CE","t":"2018-10","v":603},{"r":"CE","t":"2018-11","v":527},{"r":"CE","t":"2018-12","v":378},
{"r":"NE","t":"2017-01","v":1694},{"r":"NE","t":"2017-02","v":1365},{"r":"NE","t":"2017-03","v":1436},{"r":"NE","t":"2017-04","v":1135},{"r":"NE","t":"2017-05","v":1277},{"r":"NE","t":"2017-06","v":993},{"r":"NE","t":"2017-07","v":948},{"r":"NE","t":"2017-08","v":969},{"r":"NE","t":"2017-09","v":987},{"r":"NE","t":"2017-10","v":1238},{"r":"NE","t":"2017-11","v":1186},{"r":"NE","t":"2017-12","v":993},{"r":"NE","t":"2018-01","v":1539},{"r":"NE","t":"2018-02","v":1483},{"r":"NE","t":"2018-03","v":1411},{"r":"NE","t":"2018-04","v":1128},{"r":"NE","t":"2018-05","v":1086},{"r":"NE","t":"2018-06","v":879},{"r":"NE","t":"2018-07","v":910},{"r":"NE","t":"2018-08","v":928},{"r":"NE","t":"2018-09","v":893},{"r":"NE","t":"2018-10","v":1200},{"r":"NE","t":"2018-11","v":1048},{"r":"NE","t":"2018-12","v":638},
{"r":"NW","t":"2017-01","v":1321},{"r":"NW","t":"2017-02","v":1176},{"r":"NW","t":"2017-03","v":1190},{"r":"NW","t":"2017-04","v":886},{"r":"NW","t":"2017-05","v":1020},{"r":"NW","t":"2017-06","v":859},{"r":"NW","t":"2017-07","v":790},{"r":"NW","t":"2017-08","v":739},{"r":"NW","t":"2017-09","v":835},{"r":"NW","t":"2017-10","v":1017},{"r":"NW","t":"2017-11","v":900},{"r":"NW","t":"2017-12","v":748},{"r":"NW","t":"2018-01","v":1287},{"r":"NW","t":"2018-02","v":1224},{"r":"NW","t":"2018-03","v":1179},{"r":"NW","t":"2018-04","v":900},{"r":"NW","t":"2018-05","v":914},{"r":"NW","t":"2018-06","v":769},{"r":"NW","t":"2018-07","v":766},{"r":"NW","t":"2018-08","v":730},{"r":"NW","t":"2018-09","v":779},{"r":"NW","t":"2018-10","v":997},{"r":"NW","t":"2018-11","v":997},{"r":"NW","t":"2018-12","v":627},
{"r":"WE","t":"2017-01","v":948},{"r":"WE","t":"2017-02","v":797},{"r":"WE","t":"2017-03","v":904},{"r":"WE","t":"2017-04","v":631},{"r":"WE","t":"2017-05","v":703},{"r":"WE","t":"2017-06","v":638},{"r":"WE","t":"2017-07","v":500},{"r":"WE","t":"2017-08","v":527},{"r":"WE","t":"2017-09","v":527},{"r":"WE","t":"2017-10","v":714},{"r":"WE","t":"2017-11","v":656},{"r":"WE","t":"2017-12","v":504},{"r":"WE","t":"2018-01","v":758},{"r":"WE","t":"2018-02","v":714},{"r":"WE","t":"2018-03","v":815},{"r":"WE","t":"2018-04","v":652},{"r":"WE","t":"2018-05","v":610},{"r":"WE","t":"2018-06","v":610},{"r":"WE","t":"2018-07","v":638},{"r":"WE","t":"2018-08","v":496},{"r":"WE","t":"2018-09","v":569},{"r":"WE","t":"2018-10","v":711},{"r":"WE","t":"2018-11","v":562},{"r":"WE","t":"2018-12","v":341},
{"r":"SW","t":"2017-01","v":1352},{"r":"SW","t":"2017-02","v":1236},{"r":"SW","t":"2017-03","v":1155},{"r":"SW","t":"2017-04","v":817},{"r":"SW","t":"2017-05","v":932},{"r":"SW","t":"2017-06","v":721},{"r":"SW","t":"2017-07","v":725},{"r":"SW","t":"2017-08","v":676},{"r":"SW","t":"2017-09","v":711},{"r":"SW","t":"2017-10","v":890},{"r":"SW","t":"2017-11","v":935},{"r":"SW","t":"2017-12","v":672},{"r":"SW","t":"2018-01","v":1128},{"r":"SW","t":"2018-02","v":987},{"r":"SW","t":"2018-03","v":1038},{"r":"SW","t":"2018-04","v":835},{"r":"SW","t":"2018-05","v":835},{"r":"SW","t":"2018-06","v":707},{"r":"SW","t":"2018-07","v":772},{"r":"SW","t":"2018-08","v":700},{"r":"SW","t":"2018-09","v":679},{"r":"SW","t":"2018-10","v":928},{"r":"SW","t":"2018-11","v":866},{"r":"SW","t":"2018-12","v":555},
{"r":"SM","t":"2017-01","v":1332},{"r":"SM","t":"2017-02","v":1117},{"r":"SM","t":"2017-03","v":1321},{"r":"SM","t":"2017-04","v":965},{"r":"SM","t":"2017-05","v":1135},{"r":"SM","t":"2017-06","v":866},{"r":"SM","t":"2017-07","v":872},{"r":"SM","t":"2017-08","v":877},{"r":"SM","t":"2017-09","v":897},{"r":"SM","t":"2017-10","v":1097},{"r":"SM","t":"2017-11","v":990},{"r":"SM","t":"2017-12","v":882},{"r":"SM","t":"2018-01","v":1318},{"r":"SM","t":"2018-02","v":1176},{"r":"SM","t":"2018-03","v":1236},{"r":"SM","t":"2018-04","v":1042},{"r":"SM","t":"2018-05","v":1073},{"r":"SM","t":"2018-06","v":810},{"r":"SM","t":"2018-07","v":910},{"r":"SM","t":"2018-08","v":827},{"r":"SM","t":"2018-09","v":817},{"r":"SM","t":"2018-10","v":1017},{"r":"SM","t":"2018-11","v":1001},{"r":"SM","t":"2018-12","v":665},
{"r":"SE","t":"2017-01","v":1020},{"r":"SE","t":"2017-02","v":935},{"r":"SE","t":"2017-03","v":987},{"r":"SE","t":"2017-04","v":748},{"r":"SE","t":"2017-05","v":896},{"r":"SE","t":"2017-06","v":592},{"r":"SE","t":"2017-07","v":545},{"r":"SE","t":"2017-08","v":601},{"r":"SE","t":"2017-09","v":578},{"r":"SE","t":"2017-10","v":721},{"r":"SE","t":"2017-11","v":776},{"r":"SE","t":"2017-12","v":693},{"r":"SE","t":"2018-01","v":855},{"r":"SE","t":"2018-02","v":896},{"r":"SE","t":"2018-03","v":979},{"r":"SE","t":"2018-04","v":765},{"r":"SE","t":"2018-05","v":765},{"r":"SE","t":"2018-06","v":576},{"r":"SE","t":"2018-07","v":631},{"r":"SE","t":"2018-08","v":596},{"r":"SE","t":"2018-09","v":596},{"r":"SE","t":"2018-10","v":806},{"r":"SE","t":"2018-11","v":739},{"r":"SE","t":"2018-12","v":496}
],
"C2":[
{"r":"BI","t":"2019-01","v":465},{"r":"BI","t":"2019-02","v":479},{"r":"BI","t":"2019-03","v":512},{"r":"BI","t":"2019-04","v":383},{"r":"BI","t":"2019-05","v":383},{"r":"BI","t":"2019-06","v":298},{"r":"BI","t":"2019-07","v":280},{"r":"BI","t":"2019-08","v":283},{"r":"BI","t":"2019-09","v":298},{"r":"BI","t":"2019-10","v":373},{"r":"BI","t":"2019-11","v":366},{"r":"BI","t":"2019-12","v":308},{"r":"BI","t":"2020-01","v":462},{"r":"BI","t":"2020-02","v":469},{"r":"BI","t":"2020-03","v":527},{"r":"BI","t":"2020-04","v":376},{"r":"BI","t":"2020-05","v":362},{"r":"BI","t":"2020-06","v":312},{"r":"BI","t":"2020-07","v":273},{"r":"BI","t":"2020-08","v":259},{"r":"BI","t":"2020-09","v":298},{"r":"BI","t":"2020-10","v":362},{"r":"BI","t":"2020-11","v":351},{"r":"BI","t":"2020-12","v":276},
{"r":"CE","t":"2019-01","v":588},{"r":"CE","t":"2019-02","v":595},{"r":"CE","t":"2019-03","v":601},{"r":"CE","t":"2019-04","v":494},{"r":"CE","t":"2019-05","v":479},{"r":"CE","t":"2019-06","v":391},{"r":"CE","t":"2019-07","v":376},{"r":"CE","t":"2019-08","v":381},{"r":"CE","t":"2019-09","v":391},{"r":"CE","t":"2019-10","v":469},{"r":"CE","t":"2019-11","v":466},{"r":"CE","t":"2019-12","v":398},{"r":"CE","t":"2020-01","v":584},{"r":"CE","t":"2020-02","v":579},{"r":"CE","t":"2020-03","v":627},{"r":"CE","t":"2020-04","v":479},{"r":"CE","t":"2020-05","v":448},{"r":"CE","t":"2020-06","v":405},{"r":"CE","t":"2020-07","v":365},{"r":"CE","t":"2020-08","v":351},{"r":"CE","t":"2020-09","v":398},{"r":"CE","t":"2020-10","v":458},{"r":"CE","t":"2020-11","v":448},{"r":"CE","t":"2020-12","v":369},
{"r":"NE","t":"2019-01","v":1040},{"r":"NE","t":"2019-02","v":1045},{"r":"NE","t":"2019-03","v":1125},{"r":"NE","t":"2019-04","v":880},{"r":"NE","t":"2019-05","v":866},{"r":"NE","t":"2019-06","v":677},{"r":"NE","t":"2019-07","v":655},{"r":"NE","t":"2019-08","v":644},{"r":"NE","t":"2019-09","v":637},{"r":"NE","t":"2019-10","v":808},{"r":"NE","t":"2019-11","v":806},{"r":"NE","t":"2019-12","v":705},{"r":"NE","t":"2020-01","v":1030},{"r":"NE","t":"2020-02","v":1015},{"r":"NE","t":"2020-03","v":1149},{"r":"NE","t":"2020-04","v":841},{"r":"NE","t":"2020-05","v":813},{"r":"NE","t":"2020-06","v":720},{"r":"NE","t":"2020-07","v":627},{"r":"NE","t":"2020-08","v":562},{"r":"NE","t":"2020-09","v":634},{"r":"NE","t":"2020-10","v":780},{"r":"NE","t":"2020-11","v":760},{"r":"NE","t":"2020-12","v":612},
{"r":"NW","t":"2019-01","v":1023},{"r":"NW","t":"2019-02","v":1030},{"r":"NW","t":"2019-03","v":1066},{"r":"NW","t":"2019-04","v":844},{"r":"NW","t":"2019-05","v":820},{"r":"NW","t":"2019-06","v":655},{"r":"NW","t":"2019-07","v":617},{"r":"NW","t":"2019-08","v":620},{"r":"NW","t":"2019-09","v":617},{"r":"NW","t":"2019-10","v":798},{"r":"NW","t":"2019-11","v":808},{"r":"NW","t":"2019-12","v":684},{"r":"NW","t":"2020-01","v":1037},{"r":"NW","t":"2020-02","v":1006},{"r":"NW","t":"2020-03","v":1106},{"r":"NW","t":"2020-04","v":834},{"r":"NW","t":"2020-05","v":748},{"r":"NW","t":"2020-06","v":677},{"r":"NW","t":"2020-07","v":584},{"r":"NW","t":"2020-08","v":555},{"r":"NW","t":"2020-09","v":634},{"r":"NW","t":"2020-10","v":770},{"r":"NW","t":"2020-11","v":751},{"r":"NW","t":"2020-12","v":612},
{"r":"WE","t":"2019-01","v":577},{"r":"WE","t":"2019-02","v":584},{"r":"WE","t":"2019-03","v":584},{"r":"WE","t":"2019-04","v":474},{"r":"WE","t":"2019-05","v":462},{"r":"WE","t":"2019-06","v":376},{"r":"WE","t":"2019-07","v":366},{"r":"WE","t":"2019-08","v":369},{"r":"WE","t":"2019-09","v":373},{"r":"WE","t":"2019-10","v":466},{"r":"WE","t":"2019-11","v":462},{"r":"WE","t":"2019-12","v":393},{"r":"WE","t":"2020-01","v":581},{"r":"WE","t":"2020-02","v":567},{"r":"WE","t":"2020-03","v":617},{"r":"WE","t":"2020-04","v":465},{"r":"WE","t":"2020-05","v":429},{"r":"WE","t":"2020-06","v":398},{"r":"WE","t":"2020-07","v":355},{"r":"WE","t":"2020-08","v":341},{"r":"WE","t":"2020-09","v":391},{"r":"WE","t":"2020-10","v":462},{"r":"WE","t":"2020-11","v":444},{"r":"WE","t":"2020-12","v":362},
{"r":"SW","t":"2019-01","v":980},{"r":"SW","t":"2019-02","v":992},{"r":"SW","t":"2019-03","v":1063},{"r":"SW","t":"2019-04","v":813},{"r":"SW","t":"2019-05","v":813},{"r":"SW","t":"2019-06","v":648},{"r":"SW","t":"2019-07","v":588},{"r":"SW","t":"2019-08","v":588},{"r":"SW","t":"2019-09","v":608},{"r":"SW","t":"2019-10","v":791},{"r":"SW","t":"2019-11","v":765},{"r":"SW","t":"2019-12","v":651},{"r":"SW","t":"2020-01","v":970},{"r":"SW","t":"2020-02","v":977},{"r":"SW","t":"2020-03","v":1095},{"r":"SW","t":"2020-04","v":794},{"r":"SW","t":"2020-05","v":765},{"r":"SW","t":"2020-06","v":677},{"r":"SW","t":"2020-07","v":565},{"r":"SW","t":"2020-08","v":527},{"r":"SW","t":"2020-09","v":617},{"r":"SW","t":"2020-10","v":751},{"r":"SW","t":"2020-11","v":717},{"r":"SW","t":"2020-12","v":574},
{"r":"SM","t":"2019-01","v":1042},{"r":"SM","t":"2019-02","v":1049},{"r":"SM","t":"2019-03","v":1117},{"r":"SM","t":"2019-04","v":880},{"r":"SM","t":"2019-05","v":848},{"r":"SM","t":"2019-06","v":662},{"r":"SM","t":"2019-07","v":637},{"r":"SM","t":"2019-08","v":641},{"r":"SM","t":"2019-09","v":622},{"r":"SM","t":"2019-10","v":798},{"r":"SM","t":"2019-11","v":791},{"r":"SM","t":"2019-12","v":691},{"r":"SM","t":"2020-01","v":1030},{"r":"SM","t":"2020-02","v":1023},{"r":"SM","t":"2020-03","v":1166},{"r":"SM","t":"2020-04","v":866},{"r":"SM","t":"2020-05","v":808},{"r":"SM","t":"2020-06","v":705},{"r":"SM","t":"2020-07","v":620},{"r":"SM","t":"2020-08","v":577},{"r":"SM","t":"2020-09","v":637},{"r":"SM","t":"2020-10","v":794},{"r":"SM","t":"2020-11","v":770},{"r":"SM","t":"2020-12","v":617},
{"r":"SE","t":"2019-01","v":794},{"r":"SE","t":"2019-02","v":813},{"r":"SE","t":"2019-03","v":853},{"r":"SE","t":"2019-04","v":674},{"r":"SE","t":"2019-05","v":641},{"r":"SE","t":"2019-06","v":512},{"r":"SE","t":"2019-07","v":476},{"r":"SE","t":"2019-08","v":476},{"r":"SE","t":"2019-09","v":479},{"r":"SE","t":"2019-10","v":620},{"r":"SE","t":"2019-11","v":631},{"r":"SE","t":"2019-12","v":541},{"r":"SE","t":"2020-01","v":801},{"r":"SE","t":"2020-02","v":806},{"r":"SE","t":"2020-03","v":906},{"r":"SE","t":"2020-04","v":674},{"r":"SE","t":"2020-05","v":617},{"r":"SE","t":"2020-06","v":541},{"r":"SE","t":"2020-07","v":469},{"r":"SE","t":"2020-08","v":436},{"r":"SE","t":"2020-09","v":498},{"r":"SE","t":"2020-10","v":622},{"r":"SE","t":"2020-11","v":617},{"r":"SE","t":"2020-12","v":498}
],
"D1":[
{"r":"BI","t":"2017-01","v":1693},{"r":"BI","t":"2017-02","v":1683},{"r":"BI","t":"2017-03","v":2001},{"r":"BI","t":"2017-04","v":1518},{"r":"BI","t":"2017-05","v":1174},{"r":"BI","t":"2017-06","v":977},{"r":"BI","t":"2017-07","v":866},{"r":"BI","t":"2017-08","v":939},{"r":"BI","t":"2017-09","v":1142},{"r":"BI","t":"2017-10","v":1270},{"r":"BI","t":"2017-11","v":1142},{"r":"BI","t":"2017-12","v":1152},{"r":"BI","t":"2018-01","v":1629},{"r":"BI","t":"2018-02","v":2180},{"r":"BI","t":"2018-03","v":2234},{"r":"BI","t":"2018-04","v":1391},{"r":"BI","t":"2018-05","v":1130},{"r":"BI","t":"2018-06","v":929},{"r":"BI","t":"2018-07","v":866},{"r":"BI","t":"2018-08","v":866},{"r":"BI","t":"2018-09","v":936},{"r":"BI","t":"2018-10","v":1327},{"r":"BI","t":"2018-11","v":1279},{"r":"BI","t":"2018-12","v":1518},
{"r":"CE","t":"2017-01","v":3274},{"r":"CE","t":"2017-02","v":2775},{"r":"CE","t":"2017-03","v":2695},{"r":"CE","t":"2017-04","v":1916},{"r":"CE","t":"2017-05","v":1900},{"r":"CE","t":"2017-06","v":1470},{"r":"CE","t":"2017-07","v":1247},{"r":"CE","t":"2017-08","v":1142},{"r":"CE","t":"2017-09","v":1604},{"r":"CE","t":"2017-10","v":2027},{"r":"CE","t":"2017-11","v":1820},{"r":"CE","t":"2017-12","v":1572},{"r":"CE","t":"2018-01","v":2441},{"r":"CE","t":"2018-02","v":3252},{"r":"CE","t":"2018-03","v":3402},{"r":"CE","t":"2018-04","v":2059},{"r":"CE","t":"2018-05","v":1836},{"r":"CE","t":"2018-06","v":1470},{"r":"CE","t":"2018-07","v":1429},{"r":"CE","t":"2018-08","v":1270},{"r":"CE","t":"2018-09","v":1636},{"r":"CE","t":"2018-10","v":1947},{"r":"CE","t":"2018-11","v":1884},{"r":"CE","t":"2018-12","v":1677},
{"r":"NE","t":"2017-01","v":2711},{"r":"NE","t":"2017-02","v":1995},{"r":"NE","t":"2017-03","v":2472},{"r":"NE","t":"2017-04","v":1788},{"r":"NE","t":"2017-05","v":1613},{"r":"NE","t":"2017-06","v":1238},{"r":"NE","t":"2017-07","v":913},{"r":"NE","t":"2017-08","v":983},{"r":"NE","t":"2017-09","v":1222},{"r":"NE","t":"2017-10","v":1470},{"r":"NE","t":"2017-11","v":1445},{"r":"NE","t":"2017-12","v":1333},{"r":"NE","t":"2018-01","v":2154},{"r":"NE","t":"2018-02","v":2861},{"r":"NE","t":"2018-03","v":2568},{"r":"NE","t":"2018-04","v":1652},{"r":"NE","t":"2018-05","v":1454},{"r":"NE","t":"2018-06","v":1190},{"r":"NE","t":"2018-07","v":1095},{"r":"NE","t":"2018-08","v":983},{"r":"NE","t":"2018-09","v":1136},{"r":"NE","t":"2018-10","v":1559},{"r":"NE","t":"2018-11","v":1391},{"r":"NE","t":"2018-12","v":1209},
{"r":"NW","t":"2017-01","v":3841},{"r":"NW","t":"2017-02","v":3102},{"r":"NW","t":"2017-03","v":2899},{"r":"NW","t":"2017-04","v":2170},{"r":"NW","t":"2017-05","v":2091},{"r":"NW","t":"2017-06","v":1652},{"r":"NW","t":"2017-07","v":1381},{"r":"NW","t":"2017-08","v":1263},{"r":"NW","t":"2017-09","v":1636},{"r":"NW","t":"2017-10","v":2036},{"r":"NW","t":"2017-11","v":1954},{"r":"NW","t":"2017-12","v":1795},{"r":"NW","t":"2018-01","v":2892},{"r":"NW","t":"2018-02","v":3643},{"r":"NW","t":"2018-03","v":3484},{"r":"NW","t":"2018-04","v":2377},{"r":"NW","t":"2018-05","v":2001},{"r":"NW","t":"2018-06","v":1629},{"r":"NW","t":"2018-07","v":1527},{"r":"NW","t":"2018-08","v":1480},{"r":"NW","t":"2018-09","v":1524},{"r":"NW","t":"2018-10","v":2154},{"r":"NW","t":"2018-11","v":2154},{"r":"NW","t":"2018-12","v":1709},
{"r":"WE","t":"2017-01","v":2052},{"r":"WE","t":"2017-02","v":1779},{"r":"WE","t":"2017-03","v":2027},{"r":"WE","t":"2017-04","v":1461},{"r":"WE","t":"2017-05","v":1190},{"r":"WE","t":"2017-06","v":977},{"r":"WE","t":"2017-07","v":802},{"r":"WE","t":"2017-08","v":770},{"r":"WE","t":"2017-09","v":993},{"r":"WE","t":"2017-10","v":1454},{"r":"WE","t":"2017-11","v":1184},{"r":"WE","t":"2017-12","v":1120},{"r":"WE","t":"2018-01","v":1629},{"r":"WE","t":"2018-02","v":2138},{"r":"WE","t":"2018-03","v":2234},{"r":"WE","t":"2018-04","v":1327},{"r":"WE","t":"2018-05","v":1206},{"r":"WE","t":"2018-06","v":897},{"r":"WE","t":"2018-07","v":913},{"r":"WE","t":"2018-08","v":850},{"r":"WE","t":"2018-09","v":1002},{"r":"WE","t":"2018-10","v":1289},{"r":"WE","t":"2018-11","v":1168},{"r":"WE","t":"2018-12","v":1072},
{"r":"SW","t":"2017-01","v":2530},{"r":"SW","t":"2017-02","v":1900},{"r":"SW","t":"2017-03","v":2059},{"r":"SW","t":"2017-04","v":1518},{"r":"SW","t":"2017-05","v":1384},{"r":"SW","t":"2017-06","v":1184},{"r":"SW","t":"2017-07","v":977},{"r":"SW","t":"2017-08","v":983},{"r":"SW","t":"2017-09","v":1142},{"r":"SW","t":"2017-10","v":1486},{"r":"SW","t":"2017-11","v":1270},{"r":"SW","t":"2017-12","v":1263},{"r":"SW","t":"2018-01","v":2043},{"r":"SW","t":"2018-02","v":2329},{"r":"SW","t":"2018-03","v":2250},{"r":"SW","t":"2018-04","v":1559},{"r":"SW","t":"2018-05","v":1375},{"r":"SW","t":"2018-06","v":1104},{"r":"SW","t":"2018-07","v":1015},{"r":"SW","t":"2018-08","v":1047},{"r":"SW","t":"2018-09","v":1174},{"r":"SW","t":"2018-10","v":1588},{"r":"SW","t":"2018-11","v":1470},{"r":"SW","t":"2018-12","v":1206},
{"r":"SM","t":"2017-01","v":2638},{"r":"SM","t":"2017-02","v":2027},{"r":"SM","t":"2017-03","v":2498},{"r":"SM","t":"2017-04","v":1811},{"r":"SM","t":"2017-05","v":1607},{"r":"SM","t":"2017-06","v":1391},{"r":"SM","t":"2017-07","v":1136},{"r":"SM","t":"2017-08","v":1200},{"r":"SM","t":"2017-09","v":1333},{"r":"SM","t":"2017-10","v":1734},{"r":"SM","t":"2017-11","v":1575},{"r":"SM","t":"2017-12","v":1508},{"r":"SM","t":"2018-01","v":2091},{"r":"SM","t":"2018-02","v":2593},{"r":"SM","t":"2018-03","v":2625},{"r":"SM","t":"2018-04","v":1820},{"r":"SM","t":"2018-05","v":1639},{"r":"SM","t":"2018-06","v":1375},{"r":"SM","t":"2018-07","v":1257},{"r":"SM","t":"2018-08","v":1349},{"r":"SM","t":"2018-09","v":1359},{"r":"SM","t":"2018-10","v":1884},{"r":"SM","t":"2018-11","v":1766},{"r":"SM","t":"2018-12","v":1652},
{"r":"SE","t":"2017-01","v":1852},{"r":"SE","t":"2017-02","v":1391},{"r":"SE","t":"2017-03","v":1747},{"r":"SE","t":"2017-04","v":1231},{"r":"SE","t":"2017-05","v":1136},{"r":"SE","t":"2017-06","v":866},{"r":"SE","t":"2017-07","v":738},{"r":"SE","t":"2017-08","v":722},{"r":"SE","t":"2017-09","v":888},{"r":"SE","t":"2017-10","v":1200},{"r":"SE","t":"2017-11","v":1025},{"r":"SE","t":"2017-12","v":920},{"r":"SE","t":"2018-01","v":1301},{"r":"SE","t":"2018-02","v":1702},{"r":"SE","t":"2018-03","v":1957},{"r":"SE","t":"2018-04","v":1216},{"r":"SE","t":"2018-05","v":1072},{"r":"SE","t":"2018-06","v":866},{"r":"SE","t":"2018-07","v":706},{"r":"SE","t":"2018-08","v":843},{"r":"SE","t":"2018-09","v":866},{"r":"SE","t":"2018-10","v":1270},{"r":"SE","t":"2018-11","v":1158},{"r":"SE","t":"2018-12","v":1152}
],
"D2":[
{"r":"BI","t":"2019-01","v":1552},{"r":"BI","t":"2019-02","v":1886},{"r":"BI","t":"2019-03","v":1959},{"r":"BI","t":"2019-04","v":1488},{"r":"BI","t":"2019-05","v":1164},{"r":"BI","t":"2019-06","v":1059},{"r":"BI","t":"2019-07","v":964},{"r":"BI","t":"2019-08","v":909},{"r":"BI","t":"2019-09","v":979},{"r":"BI","t":"2019-10","v":1355},{"r":"BI","t":"2019-11","v":1282},{"r":"BI","t":"2019-12","v":1377},{"r":"BI","t":"2020-01","v":1584},{"r":"BI","t":"2020-02","v":1908},{"r":"BI","t":"2020-03","v":2067},{"r":"BI","t":"2020-04","v":1482},{"r":"BI","t":"2020-05","v":1177},{"r":"BI","t":"2020-06","v":1075},{"r":"BI","t":"2020-07","v":948},{"r":"BI","t":"2020-08","v":875},{"r":"BI","t":"2020-09","v":1005},{"r":"BI","t":"2020-10","v":1329},{"r":"BI","t":"2020-11","v":1240},{"r":"BI","t":"2020-12","v":1313},
{"r":"CE","t":"2019-01","v":2372},{"r":"CE","t":"2019-02","v":2703},{"r":"CE","t":"2019-03","v":2872},{"r":"CE","t":"2019-04","v":2013},{"r":"CE","t":"2019-05","v":1711},{"r":"CE","t":"2019-06","v":1536},{"r":"CE","t":"2019-07","v":1336},{"r":"CE","t":"2019-08","v":1208},{"r":"CE","t":"2019-09","v":1323},{"r":"CE","t":"2019-10","v":1813},{"r":"CE","t":"2019-11","v":1711},{"r":"CE","t":"2019-12","v":1902},{"r":"CE","t":"2020-01","v":2395},{"r":"CE","t":"2020-02","v":2639},{"r":"CE","t":"2020-03","v":3062},{"r":"CE","t":"2020-04","v":2022},{"r":"CE","t":"2020-05","v":1727},{"r":"CE","t":"2020-06","v":1552},{"r":"CE","t":"2020-07","v":1297},{"r":"CE","t":"2020-08","v":1123},{"r":"CE","t":"2020-09","v":1345},{"r":"CE","t":"2020-10","v":1749},{"r":"CE","t":"2020-11","v":1647},{"r":"CE","t":"2020-12","v":1813},
{"r":"NE","t":"2019-01","v":1940},{"r":"NE","t":"2019-02","v":2204},{"r":"NE","t":"2019-03","v":2569},{"r":"NE","t":"2019-04","v":1822},{"r":"NE","t":"2019-05","v":1504},{"r":"NE","t":"2019-06","v":1297},{"r":"NE","t":"2019-07","v":1138},{"r":"NE","t":"2019-08","v":1011},{"r":"NE","t":"2019-09","v":1100},{"r":"NE","t":"2019-10","v":1530},{"r":"NE","t":"2019-11","v":1409},{"r":"NE","t":"2019-12","v":1622},{"r":"NE","t":"2020-01","v":2013},{"r":"NE","t":"2020-02","v":2204},{"r":"NE","t":"2020-03","v":2767},{"r":"NE","t":"2020-04","v":1800},{"r":"NE","t":"2020-05","v":1472},{"r":"NE","t":"2020-06","v":1329},{"r":"NE","t":"2020-07","v":1138},{"r":"NE","t":"2020-08","v":932},{"r":"NE","t":"2020-09","v":1145},{"r":"NE","t":"2020-10","v":1495},{"r":"NE","t":"2020-11","v":1377},{"r":"NE","t":"2020-12","v":1542},
{"r":"NW","t":"2019-01","v":2554},{"r":"NW","t":"2019-02","v":3015},{"r":"NW","t":"2019-03","v":3339},{"r":"NW","t":"2019-04","v":2369},{"r":"NW","t":"2019-05","v":1949},{"r":"NW","t":"2019-06","v":1781},{"r":"NW","t":"2019-07","v":1558},{"r":"NW","t":"2019-08","v":1393},{"r":"NW","t":"2019-09","v":1545},{"r":"NW","t":"2019-10","v":2092},{"r":"NW","t":"2019-11","v":2035},{"r":"NW","t":"2019-12","v":2156},{"r":"NW","t":"2020-01","v":2690},{"r":"NW","t":"2020-02","v":3158},{"r":"NW","t":"2020-03","v":3539},{"r":"NW","t":"2020-04","v":2410},{"r":"NW","t":"2020-05","v":1981},{"r":"NW","t":"2020-06","v":1813},{"r":"NW","t":"2020-07","v":1600},{"r":"NW","t":"2020-08","v":1377},{"r":"NW","t":"2020-09","v":1622},{"r":"NW","t":"2020-10","v":2134},{"r":"NW","t":"2020-11","v":2029},{"r":"NW","t":"2020-12","v":2099},
{"r":"WE","t":"2019-01","v":1520},{"r":"WE","t":"2019-02","v":1717},{"r":"WE","t":"2019-03","v":1822},{"r":"WE","t":"2019-04","v":1304},{"r":"WE","t":"2019-05","v":1113},{"r":"WE","t":"2019-06","v":986},{"r":"WE","t":"2019-07","v":884},{"r":"WE","t":"2019-08","v":814},{"r":"WE","t":"2019-09","v":859},{"r":"WE","t":"2019-10","v":1164},{"r":"WE","t":"2019-11","v":1059},{"r":"WE","t":"2019-12","v":1164},{"r":"WE","t":"2020-01","v":1488},{"r":"WE","t":"2020-02","v":1685},{"r":"WE","t":"2020-03","v":1870},{"r":"WE","t":"2020-04","v":1282},{"r":"WE","t":"2020-05","v":1075},{"r":"WE","t":"2020-06","v":932},{"r":"WE","t":"2020-07","v":836},{"r":"WE","t":"2020-08","v":750},{"r":"WE","t":"2020-09","v":884},{"r":"WE","t":"2020-10","v":1123},{"r":"WE","t":"2020-11","v":1018},{"r":"WE","t":"2020-12","v":1091},
{"r":"SW","t":"2019-01","v":1965},{"r":"SW","t":"2019-02","v":2267},{"r":"SW","t":"2019-03","v":2544},{"r":"SW","t":"2019-04","v":1800},{"r":"SW","t":"2019-05","v":1526},{"r":"SW","t":"2019-06","v":1377},{"r":"SW","t":"2019-07","v":1196},{"r":"SW","t":"2019-08","v":1091},{"r":"SW","t":"2019-09","v":1186},{"r":"SW","t":"2019-10","v":1647},{"r":"SW","t":"2019-11","v":1514},{"r":"SW","t":"2019-12","v":1542},{"r":"SW","t":"2020-01","v":2035},{"r":"SW","t":"2020-02","v":2321},{"r":"SW","t":"2020-03","v":2633},{"r":"SW","t":"2020-04","v":1800},{"r":"SW","t":"2020-05","v":1514},{"r":"SW","t":"2020-06","v":1345},{"r":"SW","t":"2020-07","v":1164},{"r":"SW","t":"2020-08","v":1027},{"r":"SW","t":"2020-09","v":1202},{"r":"SW","t":"2020-10","v":1577},{"r":"SW","t":"2020-11","v":1418},{"r":"SW","t":"2020-12","v":1450},
{"r":"SM","t":"2019-01","v":2118},{"r":"SM","t":"2019-02","v":2506},{"r":"SM","t":"2019-03","v":2655},{"r":"SM","t":"2019-04","v":1870},{"r":"SM","t":"2019-05","v":1622},{"r":"SM","t":"2019-06","v":1504},{"r":"SM","t":"2019-07","v":1323},{"r":"SM","t":"2019-08","v":1186},{"r":"SM","t":"2019-09","v":1266},{"r":"SM","t":"2019-10","v":1695},{"r":"SM","t":"2019-11","v":1622},{"r":"SM","t":"2019-12","v":1790},{"r":"SM","t":"2020-01","v":2213},{"r":"SM","t":"2020-02","v":2544},{"r":"SM","t":"2020-03","v":2808},{"r":"SM","t":"2020-04","v":1870},{"r":"SM","t":"2020-05","v":1622},{"r":"SM","t":"2020-06","v":1504},{"r":"SM","t":"2020-07","v":1297},{"r":"SM","t":"2020-08","v":1138},{"r":"SM","t":"2020-09","v":1297},{"r":"SM","t":"2020-10","v":1695},{"r":"SM","t":"2020-11","v":1609},{"r":"SM","t":"2020-12","v":1711},
{"r":"SE","t":"2019-01","v":1409},{"r":"SE","t":"2019-02","v":1743},{"r":"SE","t":"2019-03","v":1844},{"r":"SE","t":"2019-04","v":1345},{"r":"SE","t":"2019-05","v":1059},{"r":"SE","t":"2019-06","v":900},{"r":"SE","t":"2019-07","v":782},{"r":"SE","t":"2019-08","v":700},{"r":"SE","t":"2019-09","v":782},{"r":"SE","t":"2019-10","v":1107},{"r":"SE","t":"2019-11","v":1049},{"r":"SE","t":"2019-12","v":1164},{"r":"SE","t":"2020-01","v":1441},{"r":"SE","t":"2020-02","v":1647},{"r":"SE","t":"2020-03","v":2003},{"r":"SE","t":"2020-04","v":1329},{"r":"SE","t":"2020-05","v":1049},{"r":"SE","t":"2020-06","v":964},{"r":"SE","t":"2020-07","v":773},{"r":"SE","t":"2020-08","v":668},{"r":"SE","t":"2020-09","v":789},{"r":"SE","t":"2020-10","v":1081},{"r":"SE","t":"2020-11","v":1043},{"r":"SE","t":"2020-12","v":1123}
],
"E1":[
{"r":"BI","t":"2017-01","v":203},{"r":"BI","t":"2017-02","v":199},{"r":"BI","t":"2017-03","v":204},{"r":"BI","t":"2017-04","v":149},{"r":"BI","t":"2017-05","v":220},{"r":"BI","t":"2017-06","v":185},{"r":"BI","t":"2017-07","v":208},{"r":"BI","t":"2017-08","v":204},{"r":"BI","t":"2017-09","v":206},{"r":"BI","t":"2017-10","v":216},{"r":"BI","t":"2017-11","v":212},{"r":"BI","t":"2017-12","v":160},{"r":"BI","t":"2018-01","v":242},{"r":"BI","t":"2018-02","v":216},{"r":"BI","t":"2018-03","v":243},{"r":"BI","t":"2018-04","v":233},{"r":"BI","t":"2018-05","v":251},{"r":"BI","t":"2018-06","v":225},{"r":"BI","t":"2018-07","v":252},{"r":"BI","t":"2018-08","v":232},{"r":"BI","t":"2018-09","v":200},{"r":"BI","t":"2018-10","v":260},{"r":"BI","t":"2018-11","v":213},{"r":"BI","t":"2018-12","v":100},
{"r":"CE","t":"2017-01","v":125},{"r":"CE","t":"2017-02","v":107},{"r":"CE","t":"2017-03","v":119},{"r":"CE","t":"2017-04","v":95},{"r":"CE","t":"2017-05","v":117},{"r":"CE","t":"2017-06","v":90},{"r":"CE","t":"2017-07","v":107},{"r":"CE","t":"2017-08","v":74},{"r":"CE","t":"2017-09","v":81},{"r":"CE","t":"2017-10","v":96},{"r":"CE","t":"2017-11","v":109},{"r":"CE","t":"2017-12","v":64},{"r":"CE","t":"2018-01","v":82},{"r":"CE","t":"2018-02","v":111},{"r":"CE","t":"2018-03","v":97},{"r":"CE","t":"2018-04","v":88},{"r":"CE","t":"2018-05","v":105},{"r":"CE","t":"2018-06","v":92},{"r":"CE","t":"2018-07","v":146},{"r":"CE","t":"2018-08","v":98},{"r":"CE","t":"2018-09","v":97},{"r":"CE","t":"2018-10","v":96},{"r":"CE","t":"2018-11","v":90},{"r":"CE","t":"2018-12","v":46},
{"r":"NE","t":"2017-01","v":82},{"r":"NE","t":"2017-02","v":77},{"r":"NE","t":"2017-03","v":72},{"r":"NE","t":"2017-04","v":63},{"r":"NE","t":"2017-05","v":82},{"r":"NE","t":"2017-06","v":50},{"r":"NE","t":"2017-07","v":71},{"r":"NE","t":"2017-08","v":56},{"r":"NE","t":"2017-09","v":58},{"r":"NE","t":"2017-10","v":69},{"r":"NE","t":"2017-11","v":48},{"r":"NE","t":"2017-12","v":45},{"r":"NE","t":"2018-01","v":51},{"r":"NE","t":"2018-02","v":49},{"r":"NE","t":"2018-03","v":61},{"r":"NE","t":"2018-04","v":51},{"r":"NE","t":"2018-05","v":63},{"r":"NE","t":"2018-06","v":67},{"r":"NE","t":"2018-07","v":73},{"r":"NE","t":"2018-08","v":59},{"r":"NE","t":"2018-09","v":37},{"r":"NE","t":"2018-10","v":65},{"r":"NE","t":"2018-11","v":50},{"r":"NE","t":"2018-12","v":23},
{"r":"NW","t":"2017-01","v":77},{"r":"NW","t":"2017-02","v":79},{"r":"NW","t":"2017-03","v":73},{"r":"NW","t":"2017-04","v":85},{"r":"NW","t":"2017-05","v":75},{"r":"NW","t":"2017-06","v":76},{"r":"NW","t":"2017-07","v":81},{"r":"NW","t":"2017-08","v":59},{"r":"NW","t":"2017-09","v":58},{"r":"NW","t":"2017-10","v":71},{"r":"NW","t":"2017-11","v":71},{"r":"NW","t":"2017-12","v":45},{"r":"NW","t":"2018-01","v":86},{"r":"NW","t":"2018-02","v":73},{"r":"NW","t":"2018-03","v":69},{"r":"NW","t":"2018-04","v":69},{"r":"NW","t":"2018-05","v":65},{"r":"NW","t":"2018-06","v":93},{"r":"NW","t":"2018-07","v":86},{"r":"NW","t":"2018-08","v":113},{"r":"NW","t":"2018-09","v":95},{"r":"NW","t":"2018-10","v":92},{"r":"NW","t":"2018-11","v":77},{"r":"NW","t":"2018-12","v":43},
{"r":"WE","t":"2017-01","v":103},{"r":"WE","t":"2017-02","v":78},{"r":"WE","t":"2017-03","v":111},{"r":"WE","t":"2017-04","v":90},{"r":"WE","t":"2017-05","v":95},{"r":"WE","t":"2017-06","v":126},{"r":"WE","t":"2017-07","v":109},{"r":"WE","t":"2017-08","v":113},{"r":"WE","t":"2017-09","v":90},{"r":"WE","t":"2017-10","v":109},{"r":"WE","t":"2017-11","v":104},{"r":"WE","t":"2017-12","v":75},{"r":"WE","t":"2018-01","v":107},{"r":"WE","t":"2018-02","v":69},{"r":"WE","t":"2018-03","v":111},{"r":"WE","t":"2018-04","v":85},{"r":"WE","t":"2018-05","v":102},{"r":"WE","t":"2018-06","v":109},{"r":"WE","t":"2018-07","v":91},{"r":"WE","t":"2018-08","v":102},{"r":"WE","t":"2018-09","v":93},{"r":"WE","t":"2018-10","v":130},{"r":"WE","t":"2018-11","v":75},{"r":"WE","t":"2018-12","v":30},
{"r":"SW","t":"2017-01","v":50},{"r":"SW","t":"2017-02","v":31},{"r":"SW","t":"2017-03","v":35},{"r":"SW","t":"2017-04","v":25},{"r":"SW","t":"2017-05","v":35},{"r":"SW","t":"2017-06","v":39},{"r":"SW","t":"2017-07","v":51},{"r":"SW","t":"2017-08","v":28},{"r":"SW","t":"2017-09","v":41},{"r":"SW","t":"2017-10","v":42},{"r":"SW","t":"2017-11","v":44},{"r":"SW","t":"2017-12","v":38},{"r":"SW","t":"2018-01","v":48},{"r":"SW","t":"2018-02","v":51},{"r":"SW","t":"2018-03","v":54},{"r":"SW","t":"2018-04","v":55},{"r":"SW","t":"2018-05","v":39},{"r":"SW","t":"2018-06","v":38},{"r":"SW","t":"2018-07","v":47},{"r":"SW","t":"2018-08","v":53},{"r":"SW","t":"2018-09","v":56},{"r":"SW","t":"2018-10","v":54},{"r":"SW","t":"2018-11","v":46},{"r":"SW","t":"2018-12","v":22},
{"r":"SM","t":"2017-01","v":178},{"r":"SM","t":"2017-02","v":153},{"r":"SM","t":"2017-03","v":175},{"r":"SM","t":"2017-04","v":137},{"r":"SM","t":"2017-05","v":183},{"r":"SM","t":"2017-06","v":181},{"r":"SM","t":"2017-07","v":154},{"r":"SM","t":"2017-08","v":155},{"r":"SM","t":"2017-09","v":126},{"r":"SM","t":"2017-10","v":170},{"r":"SM","t":"2017-11","v":150},{"r":"SM","t":"2017-12","v":157},{"r":"SM","t":"2018-01","v":178},{"r":"SM","t":"2018-02","v":179},{"r":"SM","t":"2018-03","v":155},{"r":"SM","t":"2018-04","v":172},{"r":"SM","t":"2018-05","v":173},{"r":"SM","t":"2018-06","v":166},{"r":"SM","t":"2018-07","v":215},{"r":"SM","t":"2018-08","v":175},{"r":"SM","t":"2018-09","v":166},{"r":"SM","t":"2018-10","v":173},{"r":"SM","t":"2018-11","v":148},{"r":"SM","t":"2018-12","v":69},
{"r":"SE","t":"2017-01","v":71},{"r":"SE","t":"2017-02","v":85},{"r":"SE","t":"2017-03","v":76},{"r":"SE","t":"2017-04","v":65},{"r":"SE","t":"2017-05","v":93},{"r":"SE","t":"2017-06","v":96},{"r":"SE","t":"2017-07","v":97},{"r":"SE","t":"2017-08","v":95},{"r":"SE","t":"2017-09","v":90},{"r":"SE","t":"2017-10","v":78},{"r":"SE","t":"2017-11","v":74},{"r":"SE","t":"2017-12","v":69},{"r":"SE","t":"2018-01","v":100},{"r":"SE","t":"2018-02","v":97},{"r":"SE","t":"2018-03","v":83},{"r":"SE","t":"2018-04","v":73},{"r":"SE","t":"2018-05","v":96},{"r":"SE","t":"2018-06","v":96},{"r":"SE","t":"2018-07","v":83},{"r":"SE","t":"2018-08","v":99},{"r":"SE","t":"2018-09","v":93},{"r":"SE","t":"2018-10","v":108},{"r":"SE","t":"2018-11","v":87},{"r":"SE","t":"2018-12","v":56}
],
"E2":[
{"r":"BI","t":"2019-01","v":221},{"r":"BI","t":"2019-02","v":202},{"r":"BI","t":"2019-03","v":220},{"r":"BI","t":"2019-04","v":195},{"r":"BI","t":"2019-05","v":219},{"r":"BI","t":"2019-06","v":196},{"r":"BI","t":"2019-07","v":218},{"r":"BI","t":"2019-08","v":205},{"r":"BI","t":"2019-09","v":215},{"r":"BI","t":"2019-10","v":225},{"r":"BI","t":"2019-11","v":197},{"r":"BI","t":"2019-12","v":113},{"r":"BI","t":"2020-01","v":218},{"r":"BI","t":"2020-02","v":198},{"r":"BI","t":"2020-03","v":219},{"r":"BI","t":"2020-04","v":189},{"r":"BI","t":"2020-05","v":211},{"r":"BI","t":"2020-06","v":200},{"r":"BI","t":"2020-07","v":212},{"r":"BI","t":"2020-08","v":198},{"r":"BI","t":"2020-09","v":217},{"r":"BI","t":"2020-10","v":217},{"r":"BI","t":"2020-11","v":196},{"r":"BI","t":"2020-12","v":124},
{"r":"CE","t":"2019-01","v":87},{"r":"CE","t":"2019-02","v":85},{"r":"CE","t":"2019-03","v":88},{"r":"CE","t":"2019-04","v":84},{"r":"CE","t":"2019-05","v":95},{"r":"CE","t":"2019-06","v":87},{"r":"CE","t":"2019-07","v":97},{"r":"CE","t":"2019-08","v":88},{"r":"CE","t":"2019-09","v":94},{"r":"CE","t":"2019-10","v":93},{"r":"CE","t":"2019-11","v":84},{"r":"CE","t":"2019-12","v":52},{"r":"CE","t":"2020-01","v":90},{"r":"CE","t":"2020-02","v":87},{"r":"CE","t":"2020-03","v":91},{"r":"CE","t":"2020-04","v":87},{"r":"CE","t":"2020-05","v":92},{"r":"CE","t":"2020-06","v":91},{"r":"CE","t":"2020-07","v":97},{"r":"CE","t":"2020-08","v":89},{"r":"CE","t":"2020-09","v":98},{"r":"CE","t":"2020-10","v":93},{"r":"CE","t":"2020-11","v":87},{"r":"CE","t":"2020-12","v":63},
{"r":"NE","t":"2019-01","v":52},{"r":"NE","t":"2019-02","v":48},{"r":"NE","t":"2019-03","v":52},{"r":"NE","t":"2019-04","v":49},{"r":"NE","t":"2019-05","v":56},{"r":"NE","t":"2019-06","v":54},{"r":"NE","t":"2019-07","v":54},{"r":"NE","t":"2019-08","v":49},{"r":"NE","t":"2019-09","v":49},{"r":"NE","t":"2019-10","v":54},{"r":"NE","t":"2019-11","v":48},{"r":"NE","t":"2019-12","v":34},{"r":"NE","t":"2020-01","v":57},{"r":"NE","t":"2020-02","v":49},{"r":"NE","t":"2020-03","v":56},{"r":"NE","t":"2020-04","v":50},{"r":"NE","t":"2020-05","v":56},{"r":"NE","t":"2020-06","v":60},{"r":"NE","t":"2020-07","v":56},{"r":"NE","t":"2020-08","v":49},{"r":"NE","t":"2020-09","v":55},{"r":"NE","t":"2020-10","v":56},{"r":"NE","t":"2020-11","v":50},{"r":"NE","t":"2020-12","v":38},
{"r":"NW","t":"2019-01","v":80},{"r":"NW","t":"2019-02","v":74},{"r":"NW","t":"2019-03","v":76},{"r":"NW","t":"2019-04","v":73},{"r":"NW","t":"2019-05","v":89},{"r":"NW","t":"2019-06","v":70},{"r":"NW","t":"2019-07","v":82},{"r":"NW","t":"2019-08","v":77},{"r":"NW","t":"2019-09","v":81},{"r":"NW","t":"2019-10","v":83},{"r":"NW","t":"2019-11","v":73},{"r":"NW","t":"2019-12","v":63},{"r":"NW","t":"2020-01","v":84},{"r":"NW","t":"2020-02","v":74},{"r":"NW","t":"2020-03","v":76},{"r":"NW","t":"2020-04","v":72},{"r":"NW","t":"2020-05","v":80},{"r":"NW","t":"2020-06","v":72},{"r":"NW","t":"2020-07","v":81},{"r":"NW","t":"2020-08","v":76},{"r":"NW","t":"2020-09","v":82},{"r":"NW","t":"2020-10","v":81},{"r":"NW","t":"2020-11","v":76},{"r":"NW","t":"2020-12","v":67},
{"r":"WE","t":"2019-01","v":77},{"r":"WE","t":"2019-02","v":75},{"r":"WE","t":"2019-03","v":78},{"r":"WE","t":"2019-04","v":70},{"r":"WE","t":"2019-05","v":70},{"r":"WE","t":"2019-06","v":69},{"r":"WE","t":"2019-07","v":81},{"r":"WE","t":"2019-08","v":72},{"r":"WE","t":"2019-09","v":77},{"r":"WE","t":"2019-10","v":81},{"r":"WE","t":"2019-11","v":66},{"r":"WE","t":"2019-12","v":48},{"r":"WE","t":"2020-01","v":80},{"r":"WE","t":"2020-02","v":74},{"r":"WE","t":"2020-03","v":81},{"r":"WE","t":"2020-04","v":71},{"r":"WE","t":"2020-05","v":66},{"r":"WE","t":"2020-06","v":74},{"r":"WE","t":"2020-07","v":83},{"r":"WE","t":"2020-08","v":75},{"r":"WE","t":"2020-09","v":82},{"r":"WE","t":"2020-10","v":82},{"r":"WE","t":"2020-11","v":72},{"r":"WE","t":"2020-12","v":60},
{"r":"SW","t":"2019-01","v":46},{"r":"SW","t":"2019-02","v":45},{"r":"SW","t":"2019-03","v":46},{"r":"SW","t":"2019-04","v":37},{"r":"SW","t":"2019-05","v":41},{"r":"SW","t":"2019-06","v":32},{"r":"SW","t":"2019-07","v":43},{"r":"SW","t":"2019-08","v":37},{"r":"SW","t":"2019-09","v":42},{"r":"SW","t":"2019-10","v":44},{"r":"SW","t":"2019-11","v":38},{"r":"SW","t":"2019-12","v":32},{"r":"SW","t":"2020-01","v":49},{"r":"SW","t":"2020-02","v":44},{"r":"SW","t":"2020-03","v":45},{"r":"SW","t":"2020-04","v":36},{"r":"SW","t":"2020-05","v":38},{"r":"SW","t":"2020-06","v":33},{"r":"SW","t":"2020-07","v":42},{"r":"SW","t":"2020-08","v":34},{"r":"SW","t":"2020-09","v":41},{"r":"SW","t":"2020-10","v":41},{"r":"SW","t":"2020-11","v":38},{"r":"SW","t":"2020-12","v":35},
{"r":"SM","t":"2019-01","v":165},{"r":"SM","t":"2019-02","v":150},{"r":"SM","t":"2019-03","v":158},{"r":"SM","t":"2019-04","v":143},{"r":"SM","t":"2019-05","v":154},{"r":"SM","t":"2019-06","v":150},{"r":"SM","t":"2019-07","v":165},{"r":"SM","t":"2019-08","v":152},{"r":"SM","t":"2019-09","v":159},{"r":"SM","t":"2019-10","v":167},{"r":"SM","t":"2019-11","v":143},{"r":"SM","t":"2019-12","v":87},{"r":"SM","t":"2020-01","v":163},{"r":"SM","t":"2020-02","v":146},{"r":"SM","t":"2020-03","v":160},{"r":"SM","t":"2020-04","v":141},{"r":"SM","t":"2020-05","v":141},{"r":"SM","t":"2020-06","v":153},{"r":"SM","t":"2020-07","v":162},{"r":"SM","t":"2020-08","v":146},{"r":"SM","t":"2020-09","v":166},{"r":"SM","t":"2020-10","v":162},{"r":"SM","t":"2020-11","v":147},{"r":"SM","t":"2020-12","v":100},
{"r":"SE","t":"2019-01","v":82},{"r":"SE","t":"2019-02","v":77},{"r":"SE","t":"2019-03","v":74},{"r":"SE","t":"2019-04","v":78},{"r":"SE","t":"2019-05","v":98},{"r":"SE","t":"2019-06","v":76},{"r":"SE","t":"2019-07","v":85},{"r":"SE","t":"2019-08","v":80},{"r":"SE","t":"2019-09","v":86},{"r":"SE","t":"2019-10","v":89},{"r":"SE","t":"2019-11","v":77},{"r":"SE","t":"2019-12","v":69},{"r":"SE","t":"2020-01","v":85},{"r":"SE","t":"2020-02","v":78},{"r":"SE","t":"2020-03","v":76},{"r":"SE","t":"2020-04","v":77},{"r":"SE","t":"2020-05","v":92},{"r":"SE","t":"2020-06","v":76},{"r":"SE","t":"2020-07","v":84},{"r":"SE","t":"2020-08","v":79},{"r":"SE","t":"2020-09","v":84},{"r":"SE","t":"2020-10","v":84},{"r":"SE","t":"2020-11","v":77},{"r":"SE","t":"2020-12","v":71}
]
},
"vconcat":[
{"title":{"text":"A  Ischaemic heart diseases","fontSize":70,"dx":-287,"offset":35},"bounds":"flush","spacing":383,"resolve":{"scale":{"color":"independent"}},"hconcat":[
{"data":{"name":"A1"},"title":{"text":"Retrospective analysis 2017–2018 (counts/month)","fontSize":45,"dx":-58,"offset":43},"width":1640,"height":850,"transform":[{"lookup":"r","from":{"data":{"name":"regions"},"key":"r","fields":["n"]}}],"mark":{"type":"line","strokeWidth":6},"encoding":{"x":{"field":"t","type":"temporal","scale":{"type":"utc","padding":12},"axis":{"title":"Year","format":"%b %Y","tickCount":{"interval":"month","step":3}}},"y":{"field":"v","type":"quantitative","scale":{"domain":[0,1800],"nice":false},"axis":{"title":"New cases","values":[0,200,400,600,800,1000,1200,1400,1600,1800]}},"color":{"field":"n","type":"nominal","scale":{"domain":["Bucharest-Ilfov","Center","North East","North West","West","South West Oltenia","South Muntenia","South East"],"range":["#4a88c8","#2b3990","#ec7034","#6b2479","#dc4352","#d9b22a","#7355a8","#d6489a"]},"legend":{"title":"NUTS-2 region","symbolType":"circle","symbolSize":25,"symbolStrokeWidth":10}}}},
{"data":{"name":"A2"},"title":{"text":"Case count prediction 2019–2020 (counts/month)","fontSize":45,"dx":-77,"offset":43},"width":1640,"height":850,"transform":[{"lookup":"r","from":{"data":{"name":"regions"},"key":"r","fields":["n"]}}],"mark":{"type":"line","strokeWidth":6},"encoding":{"x":{"field":"t","type":"temporal","scale":{"type":"utc","padding":12},"axis":{"title":"Year","format":"%b %Y","tickCount":{"interval":"month","step":3}}},"y":{"field":"v","type":"quantitative","scale":{"domain":[0,1800],"nice":false},"axis":{"title":"Prediction of new cases","titleFontSize":27,"titlePadding":43,"values":[0,200,400,600,800,1000,1200,1400,1600,1800]}},"color":{"field":"n","type":"nominal","scale":{"domain":["Bucharest-Ilfov","Center","North East","North West","West","South West Oltenia","South Muntenia","South East"],"range":["#4a88c8","#2b3990","#ec7034","#6b2479","#dc4352","#d9b22a","#7355a8","#d6489a"]},"legend":{"title":"NUTS-2 region","symbolType":"circle","symbolSize":25,"symbolStrokeWidth":10}}}}
]},
{"title":{"text":"B  Stroke","fontSize":70,"dx":-287,"offset":35},"bounds":"flush","spacing":383,"resolve":{"scale":{"color":"independent"}},"hconcat":[
{"data":{"name":"B1"},"title":{"text":"Retrospective analysis 2017–2018 (counts/month)","fontSize":45,"dx":-58,"offset":43},"width":1640,"height":850,"transform":[{"lookup":"r","from":{"data":{"name":"regions"},"key":"r","fields":["n"]}}],"mark":{"type":"line","strokeWidth":6},"encoding":{"x":{"field":"t","type":"temporal","scale":{"type":"utc","padding":12},"axis":{"title":"Year","format":"%b %Y","tickCount":{"interval":"month","step":3}}},"y":{"field":"v","type":"quantitative","scale":{"domain":[0,1100],"nice":false},"axis":{"title":"New cases","values":[0,200,400,600,800,1000]}},"color":{"field":"n","type":"nominal","scale":{"domain":["Bucharest-Ilfov","Center","North East","North West","West","South West Oltenia","South Muntenia","South East"],"range":["#4a88c8","#2b3990","#ec7034","#6b2479","#dc4352","#d9b22a","#7355a8","#d6489a"]},"legend":{"title":"NUTS-2 region","symbolType":"circle","symbolSize":25,"symbolStrokeWidth":10}}}},
{"data":{"name":"B2"},"title":{"text":"Case count prediction 2019–2020 (counts/month)","fontSize":45,"dx":-77,"offset":43},"width":1640,"height":850,"transform":[{"lookup":"r","from":{"data":{"name":"regions"},"key":"r","fields":["n"]}}],"mark":{"type":"line","strokeWidth":6},"encoding":{"x":{"field":"t","type":"temporal","scale":{"type":"utc","padding":12},"axis":{"title":"Year","format":"%b %Y","tickCount":{"interval":"month","step":3}}},"y":{"field":"v","type":"quantitative","scale":{"domain":[0,1100],"nice":false},"axis":{"title":"Prediction of new cases","titleFontSize":27,"titlePadding":43,"values":[0,200,400,600,800,1000]}},"color":{"field":"n","type":"nominal","scale":{"domain":["Bucharest-Ilfov","Center","North East","North West","West","South West Oltenia","South Muntenia","South East"],"range":["#4a88c8","#2b3990","#ec7034","#6b2479","#dc4352","#d9b22a","#7355a8","#d6489a"]},"legend":{"title":"NUTS-2 region","symbolType":"circle","symbolSize":25,"symbolStrokeWidth":10}}}}
]},
{"title":{"text":"C  Chronic obstructive pulmonary disease","fontSize":70,"dx":-287,"offset":35},"bounds":"flush","spacing":383,"resolve":{"scale":{"color":"independent"}},"hconcat":[
{"data":{"name":"C1"},"title":{"text":"Retrospective analysis 2017–2018 (counts/month)","fontSize":45,"dx":-58,"offset":43},"width":1640,"height":850,"transform":[{"lookup":"r","from":{"data":{"name":"regions"},"key":"r","fields":["n"]}}],"mark":{"type":"line","strokeWidth":6},"encoding":{"x":{"field":"t","type":"temporal","scale":{"type":"utc","padding":12},"axis":{"title":"Year","format":"%b %Y","tickCount":{"interval":"month","step":3}}},"y":{"field":"v","type":"quantitative","scale":{"domain":[0,1800],"nice":false},"axis":{"title":"New cases","values":[0,200,400,600,800,1000,1200,1400,1600,1800]}},"color":{"field":"n","type":"nominal","scale":{"domain":["Bucharest-Ilfov","Center","North East","North West","West","South West Oltenia","South Muntenia","South East"],"range":["#4a88c8","#2b3990","#ec7034","#6b2479","#dc4352","#d9b22a","#7355a8","#d6489a"]},"legend":{"title":"NUTS-2 region","symbolType":"circle","symbolSize":25,"symbolStrokeWidth":10}}}},
{"data":{"name":"C2"},"title":{"text":"Case count prediction 2019–2020 (counts/month)","fontSize":45,"dx":-77,"offset":43},"width":1640,"height":850,"transform":[{"lookup":"r","from":{"data":{"name":"regions"},"key":"r","fields":["n"]}}],"mark":{"type":"line","strokeWidth":6},"encoding":{"x":{"field":"t","type":"temporal","scale":{"type":"utc","padding":12},"axis":{"title":"Year","format":"%b %Y","tickCount":{"interval":"month","step":3}}},"y":{"field":"v","type":"quantitative","scale":{"domain":[0,1800],"nice":false},"axis":{"title":"Prediction of new cases","titleFontSize":27,"titlePadding":43,"values":[0,200,400,600,800,1000,1200,1400,1600,1800]}},"color":{"field":"n","type":"nominal","scale":{"domain":["Bucharest-Ilfov","Center","North East","North West","West","South West Oltenia","South Muntenia","South East"],"range":["#4a88c8","#2b3990","#ec7034","#6b2479","#dc4352","#d9b22a","#7355a8","#d6489a"]},"legend":{"title":"NUTS-2 region","symbolType":"circle","symbolSize":25,"symbolStrokeWidth":10}}}}
]},
{"title":{"text":"D  Lower respiratory infections","fontSize":70,"dx":-287,"offset":35},"bounds":"flush","spacing":383,"resolve":{"scale":{"color":"independent"}},"hconcat":[
{"data":{"name":"D1"},"title":{"text":"Retrospective analysis 2017–2018 (counts/month)","fontSize":45,"dx":-58,"offset":43},"width":1640,"height":850,"transform":[{"lookup":"r","from":{"data":{"name":"regions"},"key":"r","fields":["n"]}}],"mark":{"type":"line","strokeWidth":6},"encoding":{"x":{"field":"t","type":"temporal","scale":{"type":"utc","padding":12},"axis":{"title":"Year","format":"%b %Y","tickCount":{"interval":"month","step":3}}},"y":{"field":"v","type":"quantitative","scale":{"domain":[0,4000],"nice":false},"axis":{"title":"New cases","values":[0,500,1000,1500,2000,2500,3000,3500,4000]}},"color":{"field":"n","type":"nominal","scale":{"domain":["Bucharest-Ilfov","Center","North East","North West","West","South West Oltenia","South Muntenia","South East"],"range":["#4a88c8","#2b3990","#ec7034","#6b2479","#dc4352","#d9b22a","#7355a8","#d6489a"]},"legend":{"title":"NUTS-2 region","symbolType":"circle","symbolSize":25,"symbolStrokeWidth":10}}}},
{"data":{"name":"D2"},"title":{"text":"Case count prediction 2019–2020 (counts/month)","fontSize":45,"dx":-77,"offset":43},"width":1640,"height":850,"transform":[{"lookup":"r","from":{"data":{"name":"regions"},"key":"r","fields":["n"]}}],"mark":{"type":"line","strokeWidth":6},"encoding":{"x":{"field":"t","type":"temporal","scale":{"type":"utc","padding":12},"axis":{"title":"Year","format":"%b %Y","tickCount":{"interval":"month","step":3}}},"y":{"field":"v","type":"quantitative","scale":{"domain":[0,4000],"nice":false},"axis":{"title":"Prediction of new cases","titleFontSize":27,"titlePadding":43,"values":[0,500,1000,1500,2000,2500,3000,3500,4000]}},"color":{"field":"n","type":"nominal","scale":{"domain":["Bucharest-Ilfov","Center","North East","North West","West","South West Oltenia","South Muntenia","South East"],"range":["#4a88c8","#2b3990","#ec7034","#6b2479","#dc4352","#d9b22a","#7355a8","#d6489a"]},"legend":{"title":"NUTS-2 region","symbolType":"circle","symbolSize":25,"symbolStrokeWidth":10}}}}
]},
{"title":{"text":"E  Alzheimer’s disease","fontSize":70,"dx":-287,"offset":35},"bounds":"flush","spacing":383,"resolve":{"scale":{"color":"independent"}},"hconcat":[
{"data":{"name":"E1"},"title":{"text":"Retrospective analysis 2017–2018 (counts/month)","fontSize":45,"dx":-58,"offset":43},"width":1640,"height":850,"transform":[{"lookup":"r","from":{"data":{"name":"regions"},"key":"r","fields":["n"]}}],"mark":{"type":"line","strokeWidth":6},"encoding":{"x":{"field":"t","type":"temporal","scale":{"type":"utc","padding":12},"axis":{"title":"Year","format":"%b %Y","tickCount":{"interval":"month","step":3}}},"y":{"field":"v","type":"quantitative","scale":{"domain":[0,275],"nice":false},"axis":{"title":"New cases","values":[0,50,100,150,200,250]}},"color":{"field":"n","type":"nominal","scale":{"domain":["Bucharest-Ilfov","Center","North East","North West","West","South West Oltenia","South Muntenia","South East"],"range":["#4a88c8","#2b3990","#ec7034","#6b2479","#dc4352","#d9b22a","#7355a8","#d6489a"]},"legend":{"title":"NUTS-2 region","symbolType":"circle","symbolSize":25,"symbolStrokeWidth":10}}}},
{"data":{"name":"E2"},"title":{"text":"Case count prediction 2019–2020 (counts/month)","fontSize":45,"dx":-77,"offset":43},"width":1640,"height":850,"transform":[{"lookup":"r","from":{"data":{"name":"regions"},"key":"r","fields":["n"]}}],"mark":{"type":"line","strokeWidth":6},"encoding":{"x":{"field":"t","type":"temporal","scale":{"type":"utc","padding":12},"axis":{"title":"Year","format":"%b %Y","tickCount":{"interval":"month","step":3}}},"y":{"field":"v","type":"quantitative","scale":{"domain":[0,250],"nice":false},"axis":{"title":"Prediction of new cases","titleFontSize":27,"titlePadding":43,"values":[0,50,100,150,200,250]}},"color":{"field":"n","type":"nominal","scale":{"domain":["Bucharest-Ilfov","Center","North East","North West","West","South West Oltenia","South Muntenia","South East"],"range":["#4a88c8","#2b3990","#ec7034","#6b2479","#dc4352","#d9b22a","#7355a8","#d6489a"]},"legend":{"title":"NUTS-2 region","symbolType":"circle","symbolSize":25,"symbolStrokeWidth":10}}}}
]}
]
}
